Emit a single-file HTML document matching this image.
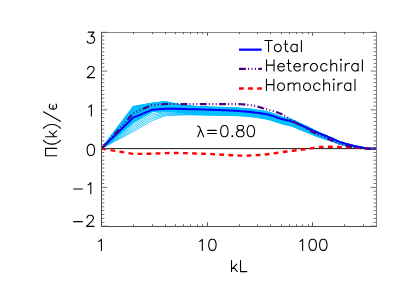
<!DOCTYPE html>
<html><head><meta charset="utf-8"><title>Energy flux</title>
<style>html,body{margin:0;padding:0;background:#fff;font-family:"Liberation Sans",sans-serif;}svg{display:block}</style>
</head><body>
<svg width="407" height="291" viewBox="0 0 407 291">
<rect width="407" height="291" fill="#fff"/>
<defs><clipPath id="c"><rect x="101.50" y="32.50" width="275.00" height="194.00"/></clipPath></defs>
<g clip-path="url(#c)" fill="none" stroke-linejoin="round">
<path d="M101.50,148.61 L133.29,131.55 L151.88,120.70 L165.08,115.85 L175.31,115.27 L183.67,114.96 L190.74,114.88 L196.87,114.95 L202.27,115.08 L207.10,115.19 L211.47,115.27 L215.46,115.34 L219.13,115.39 L222.53,115.45 L225.70,115.51 L228.66,115.57 L231.44,115.63 L234.06,115.70 L236.54,115.77 L238.89,115.85 L241.13,115.95 L243.26,116.08 L245.30,116.23 L247.25,116.41 L249.12,116.60 L250.92,116.80 L252.65,117.01 L254.32,117.22 L255.93,117.44 L257.48,117.66 L258.99,117.88 L261.01,118.19 L262.95,118.50 L264.95,118.82 L266.98,119.24 L268.92,119.73 L270.91,120.30 L272.92,120.94 L274.84,121.58 L276.89,122.28 L278.85,122.93 L280.82,123.56 L282.89,124.16 L284.86,124.66 L286.84,125.06 L288.81,125.47 L290.78,125.99 L292.80,126.69 L294.74,127.45 L296.73,128.29 L298.77,129.15 L300.71,129.93 L302.70,130.72 L304.70,131.54 L306.68,132.35 L308.68,133.17 L310.68,134.00 L312.65,134.79 L314.63,135.57 L316.65,136.35 L318.63,137.08 L320.60,137.76 L322.60,138.41 L324.59,139.02 L326.57,139.62 L328.56,140.23 L330.56,140.89 L332.53,141.61 L334.54,142.38 L336.52,143.12 L338.50,143.78 L340.49,144.33 L342.47,144.80 L344.47,145.25 L346.46,145.67 L348.44,146.06 L350.44,146.42 L352.43,146.75 L354.41,147.04 L356.40,147.30 L358.39,147.53 L360.38,147.73 L362.36,147.92 L364.35,148.14 L366.34,148.39 L368.32,148.57 L370.31,148.61 L372.30,148.61 L374.29,148.61 L376.28,148.61" stroke="#00bfff" stroke-width="0.8"/>
<path d="M101.50,148.61 L133.29,129.85 L151.88,118.87 L165.08,114.84 L175.31,114.51 L183.67,114.44 L190.74,114.53 L196.87,114.67 L202.27,114.81 L207.10,114.93 L211.47,115.03 L215.46,115.10 L219.13,115.16 L222.53,115.22 L225.70,115.28 L228.66,115.35 L231.44,115.41 L234.06,115.48 L236.54,115.56 L238.89,115.64 L241.13,115.74 L243.26,115.88 L245.30,116.03 L247.25,116.21 L249.12,116.39 L250.92,116.59 L252.65,116.80 L254.32,117.02 L255.93,117.23 L257.48,117.45 L258.99,117.67 L261.01,117.98 L262.95,118.29 L264.95,118.61 L266.98,119.03 L268.92,119.52 L270.91,120.09 L272.92,120.73 L274.84,121.37 L276.89,122.07 L278.85,122.72 L280.82,123.35 L282.89,123.95 L284.86,124.45 L286.84,124.85 L288.81,125.26 L290.78,125.79 L292.80,126.48 L294.74,127.24 L296.73,128.08 L298.77,128.94 L300.71,129.72 L302.70,130.51 L304.70,131.34 L306.68,132.15 L308.68,132.98 L310.68,133.80 L312.65,134.60 L314.63,135.39 L316.65,136.17 L318.63,136.91 L320.60,137.60 L322.60,138.25 L324.59,138.87 L326.57,139.47 L328.56,140.10 L330.56,140.76 L332.53,141.49 L334.54,142.26 L336.52,143.01 L338.50,143.68 L340.49,144.23 L342.47,144.71 L344.47,145.17 L346.46,145.60 L348.44,145.99 L350.44,146.36 L352.43,146.69 L354.41,147.00 L356.40,147.27 L358.39,147.50 L360.38,147.70 L362.36,147.91 L364.35,148.13 L366.34,148.39 L368.32,148.57 L370.31,148.61 L372.30,148.61 L374.29,148.61 L376.28,148.61" stroke="#00bfff" stroke-width="0.8"/>
<path d="M101.50,148.61 L133.29,128.14 L151.88,117.05 L165.08,113.83 L175.31,113.75 L183.67,113.92 L190.74,114.18 L196.87,114.38 L202.27,114.54 L207.10,114.68 L211.47,114.78 L215.46,114.86 L219.13,114.93 L222.53,115.00 L225.70,115.06 L228.66,115.12 L231.44,115.19 L234.06,115.26 L236.54,115.34 L238.89,115.43 L241.13,115.54 L243.26,115.67 L245.30,115.83 L247.25,116.00 L249.12,116.19 L250.92,116.39 L252.65,116.60 L254.32,116.81 L255.93,117.03 L257.48,117.25 L258.99,117.47 L261.01,117.77 L262.95,118.08 L264.95,118.40 L266.98,118.82 L268.92,119.31 L270.91,119.88 L272.92,120.52 L274.84,121.16 L276.89,121.86 L278.85,122.51 L280.82,123.14 L282.89,123.74 L284.86,124.24 L286.84,124.64 L288.81,125.05 L290.78,125.58 L292.80,126.27 L294.74,127.03 L296.73,127.87 L298.77,128.73 L300.71,129.51 L302.70,130.31 L304.70,131.13 L306.68,131.95 L308.68,132.78 L310.68,133.61 L312.65,134.42 L314.63,135.21 L316.65,136.00 L318.63,136.73 L320.60,137.43 L322.60,138.09 L324.59,138.72 L326.57,139.33 L328.56,139.96 L330.56,140.63 L332.53,141.36 L334.54,142.15 L336.52,142.90 L338.50,143.58 L340.49,144.14 L342.47,144.63 L344.47,145.09 L346.46,145.52 L348.44,145.92 L350.44,146.30 L352.43,146.64 L354.41,146.95 L356.40,147.23 L358.39,147.47 L360.38,147.68 L362.36,147.89 L364.35,148.12 L366.34,148.38 L368.32,148.57 L370.31,148.61 L372.30,148.61 L374.29,148.61 L376.28,148.61" stroke="#00bfff" stroke-width="0.8"/>
<path d="M101.50,148.61 L133.29,126.43 L151.88,115.23 L165.08,112.83 L175.31,112.99 L183.67,113.40 L190.74,113.83 L196.87,114.09 L202.27,114.27 L207.10,114.42 L211.47,114.54 L215.46,114.63 L219.13,114.70 L222.53,114.77 L225.70,114.83 L228.66,114.90 L231.44,114.97 L234.06,115.05 L236.54,115.13 L238.89,115.22 L241.13,115.33 L243.26,115.47 L245.30,115.63 L247.25,115.80 L249.12,115.99 L250.92,116.19 L252.65,116.40 L254.32,116.61 L255.93,116.82 L257.48,117.04 L258.99,117.26 L261.01,117.57 L262.95,117.87 L264.95,118.20 L266.98,118.61 L268.92,119.10 L270.91,119.68 L272.92,120.31 L274.84,120.95 L276.89,121.65 L278.85,122.30 L280.82,122.93 L282.89,123.53 L284.86,124.03 L286.84,124.43 L288.81,124.84 L290.78,125.37 L292.80,126.06 L294.74,126.82 L296.73,127.66 L298.77,128.51 L300.71,129.30 L302.70,130.10 L304.70,130.93 L306.68,131.75 L308.68,132.59 L310.68,133.42 L312.65,134.23 L314.63,135.03 L316.65,135.82 L318.63,136.56 L320.60,137.27 L322.60,137.94 L324.59,138.57 L326.57,139.19 L328.56,139.82 L330.56,140.50 L332.53,141.24 L334.54,142.03 L336.52,142.79 L338.50,143.48 L340.49,144.04 L342.47,144.54 L344.47,145.01 L346.46,145.45 L348.44,145.86 L350.44,146.24 L352.43,146.59 L354.41,146.90 L356.40,147.19 L358.39,147.43 L360.38,147.66 L362.36,147.87 L364.35,148.11 L366.34,148.38 L368.32,148.57 L370.31,148.61 L372.30,148.61 L374.29,148.61 L376.28,148.61" stroke="#00bfff" stroke-width="0.8"/>
<path d="M101.50,148.61 L133.29,124.73 L151.88,113.41 L165.08,111.82 L175.31,112.23 L183.67,112.88 L190.74,113.48 L196.87,113.79 L202.27,114.00 L207.10,114.17 L211.47,114.29 L215.46,114.39 L219.13,114.47 L222.53,114.54 L225.70,114.61 L228.66,114.68 L231.44,114.75 L234.06,114.83 L236.54,114.92 L238.89,115.01 L241.13,115.13 L243.26,115.26 L245.30,115.42 L247.25,115.60 L249.12,115.79 L250.92,115.99 L252.65,116.19 L254.32,116.40 L255.93,116.62 L257.48,116.83 L258.99,117.05 L261.01,117.36 L262.95,117.66 L264.95,117.99 L266.98,118.40 L268.92,118.89 L270.91,119.47 L272.92,120.10 L274.84,120.74 L276.89,121.44 L278.85,122.09 L280.82,122.72 L282.89,123.32 L284.86,123.82 L286.84,124.22 L288.81,124.63 L290.78,125.16 L292.80,125.85 L294.74,126.61 L296.73,127.45 L298.77,128.30 L300.71,129.09 L302.70,129.89 L304.70,130.73 L306.68,131.55 L308.68,132.39 L310.68,133.23 L312.65,134.04 L314.63,134.84 L316.65,135.64 L318.63,136.39 L320.60,137.10 L322.60,137.78 L324.59,138.42 L326.57,139.04 L328.56,139.69 L330.56,140.37 L332.53,141.12 L334.54,141.92 L336.52,142.68 L338.50,143.38 L340.49,143.95 L342.47,144.45 L344.47,144.93 L346.46,145.38 L348.44,145.79 L350.44,146.18 L352.43,146.53 L354.41,146.86 L356.40,147.15 L358.39,147.40 L360.38,147.63 L362.36,147.85 L364.35,148.10 L366.34,148.37 L368.32,148.57 L370.31,148.61 L372.30,148.61 L374.29,148.61 L376.28,148.61" stroke="#00bfff" stroke-width="0.8"/>
<path d="M101.50,148.61 L133.29,122.61 L151.88,111.48 L165.08,110.79 L175.31,111.90 L183.67,112.42 L190.74,113.22 L196.87,113.54 L202.27,113.75 L207.10,113.93 L211.47,114.08 L215.46,114.19 L219.13,114.29 L222.53,114.38 L225.70,114.46 L228.66,114.55 L231.44,114.64 L234.06,114.73 L236.54,114.84 L238.89,114.95 L241.13,115.07 L243.26,115.22 L245.30,115.39 L247.25,115.56 L249.12,115.75 L250.92,115.95 L252.65,116.15 L254.32,116.36 L255.93,116.57 L257.48,116.78 L258.99,116.99 L261.01,117.30 L262.95,117.60 L264.95,117.92 L266.98,118.34 L268.92,118.83 L270.91,119.40 L272.92,120.04 L274.84,120.68 L276.89,121.37 L278.85,122.03 L280.82,122.66 L282.89,123.26 L284.86,123.75 L286.84,124.16 L288.81,124.57 L290.78,125.09 L292.80,125.79 L294.74,126.55 L296.73,127.38 L298.77,128.24 L300.71,129.03 L302.70,129.83 L304.70,130.66 L306.68,131.49 L308.68,132.33 L310.68,133.17 L312.65,133.99 L314.63,134.79 L316.65,135.59 L318.63,136.34 L320.60,137.05 L322.60,137.73 L324.59,138.37 L326.57,139.00 L328.56,139.64 L330.56,140.33 L332.53,141.08 L334.54,141.88 L336.52,142.65 L338.50,143.35 L340.49,143.92 L342.47,144.43 L344.47,144.90 L346.46,145.35 L348.44,145.77 L350.44,146.16 L352.43,146.52 L354.41,146.84 L356.40,147.14 L358.39,147.39 L360.38,147.63 L362.36,147.85 L364.35,148.09 L366.34,148.37 L368.32,148.57 L370.31,148.61 L372.30,148.61 L374.29,148.61 L376.28,148.61" stroke="#00bfff" stroke-width="1.1"/>
<path d="M101.50,148.61 L133.29,122.65 L151.88,111.50 L165.08,110.90 L175.31,111.08 L183.67,111.98 L190.74,112.57 L196.87,113.06 L202.27,113.46 L207.10,113.74 L211.47,113.91 L215.46,114.03 L219.13,114.12 L222.53,114.21 L225.70,114.29 L228.66,114.36 L231.44,114.45 L234.06,114.54 L236.54,114.64 L238.89,114.75 L241.13,114.87 L243.26,115.02 L245.30,115.18 L247.25,115.36 L249.12,115.55 L250.92,115.74 L252.65,115.94 L254.32,116.15 L255.93,116.36 L257.48,116.58 L258.99,116.79 L261.01,117.09 L262.95,117.40 L264.95,117.72 L266.98,118.13 L268.92,118.62 L270.91,119.20 L272.92,119.84 L274.84,120.48 L276.89,121.17 L278.85,121.83 L280.82,122.45 L282.89,123.06 L284.86,123.55 L286.84,123.95 L288.81,124.36 L290.78,124.89 L292.80,125.58 L294.74,126.34 L296.73,127.18 L298.77,128.04 L300.71,128.83 L302.70,129.63 L304.70,130.47 L306.68,131.30 L308.68,132.14 L310.68,132.98 L312.65,133.80 L314.63,134.61 L316.65,135.42 L318.63,136.17 L320.60,136.89 L322.60,137.58 L324.59,138.22 L326.57,138.86 L328.56,139.51 L330.56,140.20 L332.53,140.96 L334.54,141.77 L336.52,142.55 L338.50,143.25 L340.49,143.83 L342.47,144.34 L344.47,144.83 L346.46,145.28 L348.44,145.70 L350.44,146.10 L352.43,146.47 L354.41,146.80 L356.40,147.10 L358.39,147.36 L360.38,147.60 L362.36,147.83 L364.35,148.08 L366.34,148.36 L368.32,148.57 L370.31,148.61 L372.30,148.61 L374.29,148.61 L376.28,148.61" stroke="#00bfff" stroke-width="1.1"/>
<path d="M101.50,148.61 L133.29,122.38 L151.88,111.55 L165.08,110.16 L175.31,111.35 L183.67,112.29 L190.74,112.85 L196.87,113.02 L202.27,113.12 L207.10,113.24 L211.47,113.37 L215.46,113.49 L219.13,113.60 L222.53,113.72 L225.70,113.83 L228.66,113.95 L231.44,114.07 L234.06,114.19 L236.54,114.32 L238.89,114.44 L241.13,114.58 L243.26,114.74 L245.30,114.91 L247.25,115.09 L249.12,115.27 L250.92,115.47 L252.65,115.67 L254.32,115.87 L255.93,116.08 L257.48,116.29 L258.99,116.50 L261.01,116.80 L262.95,117.10 L264.95,117.42 L266.98,117.83 L268.92,118.32 L270.91,118.90 L272.92,119.54 L274.84,120.18 L276.89,120.87 L278.85,121.53 L280.82,122.15 L282.89,122.76 L284.86,123.25 L286.84,123.65 L288.81,124.06 L290.78,124.59 L292.80,125.28 L294.74,126.04 L296.73,126.87 L298.77,127.73 L300.71,128.53 L302.70,129.34 L304.70,130.17 L306.68,131.01 L308.68,131.86 L310.68,132.71 L312.65,133.54 L314.63,134.35 L316.65,135.16 L318.63,135.93 L320.60,136.66 L322.60,137.35 L324.59,138.01 L326.57,138.65 L328.56,139.32 L330.56,140.02 L332.53,140.78 L334.54,141.60 L336.52,142.39 L338.50,143.10 L340.49,143.69 L342.47,144.22 L344.47,144.71 L346.46,145.18 L348.44,145.61 L350.44,146.01 L352.43,146.39 L354.41,146.73 L356.40,147.05 L358.39,147.32 L360.38,147.57 L362.36,147.81 L364.35,148.06 L366.34,148.36 L368.32,148.57 L370.31,148.61 L372.30,148.61 L374.29,148.61 L376.28,148.61" stroke="#00bfff" stroke-width="1.1"/>
<path d="M101.50,148.61 L133.29,122.11 L151.88,111.16 L165.08,110.03 L175.31,110.95 L183.67,112.02 L190.74,112.69 L196.87,112.95 L202.27,113.12 L207.10,113.25 L211.47,113.35 L215.46,113.42 L219.13,113.48 L222.53,113.53 L225.70,113.58 L228.66,113.63 L231.44,113.68 L234.06,113.75 L236.54,113.81 L238.89,113.89 L241.13,113.99 L243.26,114.11 L245.30,114.27 L247.25,114.44 L249.12,114.63 L250.92,114.83 L252.65,115.04 L254.32,115.26 L255.93,115.48 L257.48,115.70 L258.99,115.92 L261.01,116.23 L262.95,116.54 L264.95,116.86 L266.98,117.28 L268.92,117.77 L270.91,118.34 L272.92,118.98 L274.84,119.62 L276.89,120.31 L278.85,120.97 L280.82,121.60 L282.89,122.20 L284.86,122.69 L286.84,123.10 L288.81,123.51 L290.78,124.03 L292.80,124.72 L294.74,125.48 L296.73,126.31 L298.77,127.18 L300.71,127.97 L302.70,128.79 L304.70,129.63 L306.68,130.48 L308.68,131.34 L310.68,132.20 L312.65,133.04 L314.63,133.87 L316.65,134.69 L318.63,135.47 L320.60,136.22 L322.60,136.93 L324.59,137.60 L326.57,138.27 L328.56,138.95 L330.56,139.67 L332.53,140.46 L334.54,141.29 L336.52,142.10 L338.50,142.83 L340.49,143.44 L342.47,143.98 L344.47,144.50 L346.46,144.98 L348.44,145.43 L350.44,145.85 L352.43,146.25 L354.41,146.61 L356.40,146.94 L358.39,147.24 L360.38,147.50 L362.36,147.76 L364.35,148.03 L366.34,148.34 L368.32,148.57 L370.31,148.61 L372.30,148.61 L374.29,148.61 L376.28,148.61" stroke="#00bfff" stroke-width="1.1"/>
<path d="M101.50,148.61 L133.29,121.78 L151.88,110.94 L165.08,110.15 L175.31,111.28 L183.67,111.89 L190.74,112.71 L196.87,112.84 L202.27,112.91 L207.10,113.00 L211.47,113.11 L215.46,113.23 L219.13,113.35 L222.53,113.47 L225.70,113.59 L228.66,113.71 L231.44,113.84 L234.06,113.97 L236.54,114.10 L238.89,114.23 L241.13,114.37 L243.26,114.52 L245.30,114.69 L247.25,114.87 L249.12,115.06 L250.92,115.25 L252.65,115.45 L254.32,115.65 L255.93,115.86 L257.48,116.07 L258.99,116.28 L261.01,116.58 L262.95,116.88 L264.95,117.20 L266.98,117.62 L268.92,118.11 L270.91,118.68 L272.92,119.32 L274.84,119.96 L276.89,120.65 L278.85,121.31 L280.82,121.94 L282.89,122.54 L284.86,123.03 L286.84,123.44 L288.81,123.84 L290.78,124.37 L292.80,125.06 L294.74,125.82 L296.73,126.66 L298.77,127.52 L300.71,128.31 L302.70,129.12 L304.70,129.96 L306.68,130.80 L308.68,131.65 L310.68,132.51 L312.65,133.34 L314.63,134.16 L316.65,134.98 L318.63,135.75 L320.60,136.49 L322.60,137.18 L324.59,137.85 L326.57,138.50 L328.56,139.17 L330.56,139.88 L332.53,140.66 L334.54,141.48 L336.52,142.28 L338.50,142.99 L340.49,143.59 L342.47,144.13 L344.47,144.63 L346.46,145.10 L348.44,145.54 L350.44,145.95 L352.43,146.33 L354.41,146.69 L356.40,147.01 L358.39,147.29 L360.38,147.54 L362.36,147.79 L364.35,148.05 L366.34,148.35 L368.32,148.57 L370.31,148.61 L372.30,148.61 L374.29,148.61 L376.28,148.61" stroke="#00bfff" stroke-width="1.1"/>
<path d="M101.50,148.61 L133.29,121.48 L151.88,110.44 L165.08,109.83 L175.31,110.94 L183.67,111.64 L190.74,112.44 L196.87,112.84 L202.27,113.12 L207.10,113.30 L211.47,113.43 L215.46,113.51 L219.13,113.58 L222.53,113.64 L225.70,113.69 L228.66,113.75 L231.44,113.81 L234.06,113.88 L236.54,113.95 L238.89,114.04 L241.13,114.14 L243.26,114.28 L245.30,114.43 L247.25,114.61 L249.12,114.80 L250.92,115.00 L252.65,115.20 L254.32,115.42 L255.93,115.63 L257.48,115.85 L258.99,116.07 L261.01,116.38 L262.95,116.69 L264.95,117.01 L266.98,117.43 L268.92,117.92 L270.91,118.49 L272.92,119.13 L274.84,119.77 L276.89,120.46 L278.85,121.12 L280.82,121.75 L282.89,122.35 L284.86,122.84 L286.84,123.25 L288.81,123.66 L290.78,124.18 L292.80,124.87 L294.74,125.63 L296.73,126.47 L298.77,127.33 L300.71,128.12 L302.70,128.94 L304.70,129.78 L306.68,130.62 L308.68,131.48 L310.68,132.34 L312.65,133.17 L314.63,134.00 L316.65,134.82 L318.63,135.60 L320.60,136.34 L322.60,137.04 L324.59,137.71 L326.57,138.37 L328.56,139.05 L330.56,139.77 L332.53,140.55 L334.54,141.38 L336.52,142.18 L338.50,142.90 L340.49,143.51 L342.47,144.05 L344.47,144.56 L346.46,145.03 L348.44,145.48 L350.44,145.90 L352.43,146.29 L354.41,146.65 L356.40,146.97 L358.39,147.26 L360.38,147.52 L362.36,147.77 L364.35,148.04 L366.34,148.35 L368.32,148.57 L370.31,148.61 L372.30,148.61 L374.29,148.61 L376.28,148.61" stroke="#00bfff" stroke-width="1.1"/>
<path d="M101.50,148.61 L133.29,121.25 L151.88,110.46 L165.08,109.30 L175.31,110.15 L183.67,111.07 L190.74,111.87 L196.87,112.19 L202.27,112.39 L207.10,112.59 L211.47,112.79 L215.46,112.96 L219.13,113.11 L222.53,113.26 L225.70,113.41 L228.66,113.55 L231.44,113.70 L234.06,113.85 L236.54,114.00 L238.89,114.15 L241.13,114.32 L243.26,114.48 L245.30,114.66 L247.25,114.84 L249.12,115.02 L250.92,115.22 L252.65,115.41 L254.32,115.61 L255.93,115.81 L257.48,116.01 L258.99,116.22 L261.01,116.51 L262.95,116.81 L264.95,117.13 L266.98,117.54 L268.92,118.03 L270.91,118.61 L272.92,119.24 L274.84,119.89 L276.89,120.58 L278.85,121.23 L280.82,121.86 L282.89,122.46 L284.86,122.96 L286.84,123.36 L288.81,123.77 L290.78,124.30 L292.80,124.99 L294.74,125.75 L296.73,126.58 L298.77,127.44 L300.71,128.24 L302.70,129.05 L304.70,129.89 L306.68,130.73 L308.68,131.59 L310.68,132.44 L312.65,133.28 L314.63,134.10 L316.65,134.92 L318.63,135.69 L320.60,136.43 L322.60,137.13 L324.59,137.80 L326.57,138.45 L328.56,139.13 L330.56,139.84 L332.53,140.61 L334.54,141.44 L336.52,142.24 L338.50,142.96 L340.49,143.56 L342.47,144.09 L344.47,144.60 L346.46,145.07 L348.44,145.52 L350.44,145.93 L352.43,146.32 L354.41,146.67 L356.40,146.99 L358.39,147.28 L360.38,147.53 L362.36,147.78 L364.35,148.05 L366.34,148.35 L368.32,148.57 L370.31,148.61 L372.30,148.61 L374.29,148.61 L376.28,148.61" stroke="#00bfff" stroke-width="1.1"/>
<path d="M101.50,148.61 L133.29,120.14 L151.88,110.63 L165.08,109.47 L175.31,110.61 L183.67,110.92 L190.74,111.66 L196.87,112.19 L202.27,112.60 L207.10,112.82 L211.47,112.92 L215.46,112.98 L219.13,113.03 L222.53,113.06 L225.70,113.10 L228.66,113.13 L231.44,113.17 L234.06,113.22 L236.54,113.27 L238.89,113.33 L241.13,113.42 L243.26,113.54 L245.30,113.69 L247.25,113.86 L249.12,114.05 L250.92,114.25 L252.65,114.46 L254.32,114.68 L255.93,114.91 L257.48,115.13 L258.99,115.36 L261.01,115.67 L262.95,115.98 L264.95,116.30 L266.98,116.72 L268.92,117.21 L270.91,117.78 L272.92,118.42 L274.84,119.06 L276.89,119.76 L278.85,120.41 L280.82,121.04 L282.89,121.64 L284.86,122.14 L286.84,122.54 L288.81,122.95 L290.78,123.47 L292.80,124.16 L294.74,124.92 L296.73,125.75 L298.77,126.61 L300.71,127.41 L302.70,128.24 L304.70,129.09 L306.68,129.94 L308.68,130.81 L310.68,131.69 L312.65,132.54 L314.63,133.38 L316.65,134.22 L318.63,135.02 L320.60,135.78 L322.60,136.50 L324.59,137.20 L326.57,137.88 L328.56,138.59 L330.56,139.33 L332.53,140.13 L334.54,140.99 L336.52,141.81 L338.50,142.56 L340.49,143.19 L342.47,143.75 L344.47,144.28 L346.46,144.78 L348.44,145.25 L350.44,145.69 L352.43,146.11 L354.41,146.49 L356.40,146.84 L358.39,147.15 L360.38,147.44 L362.36,147.71 L364.35,148.00 L366.34,148.33 L368.32,148.56 L370.31,148.61 L372.30,148.61 L374.29,148.61 L376.28,148.61" stroke="#00bfff" stroke-width="1.1"/>
<path d="M101.50,148.61 L133.29,120.11 L151.88,109.96 L165.08,109.08 L175.31,110.22 L183.67,110.89 L190.74,111.35 L196.87,111.97 L202.27,112.54 L207.10,112.85 L211.47,112.96 L215.46,113.02 L219.13,113.07 L222.53,113.11 L225.70,113.14 L228.66,113.18 L231.44,113.22 L234.06,113.26 L236.54,113.32 L238.89,113.38 L241.13,113.47 L243.26,113.59 L245.30,113.74 L247.25,113.92 L249.12,114.11 L250.92,114.31 L252.65,114.52 L254.32,114.74 L255.93,114.96 L257.48,115.18 L258.99,115.41 L261.01,115.72 L262.95,116.03 L264.95,116.36 L266.98,116.77 L268.92,117.26 L270.91,117.84 L272.92,118.47 L274.84,119.11 L276.89,119.81 L278.85,120.46 L280.82,121.09 L282.89,121.69 L284.86,122.19 L286.84,122.59 L288.81,123.00 L290.78,123.53 L292.80,124.22 L294.74,124.97 L296.73,125.80 L298.77,126.67 L300.71,127.47 L302.70,128.29 L304.70,129.14 L306.68,129.99 L308.68,130.86 L310.68,131.74 L312.65,132.59 L314.63,133.43 L316.65,134.27 L318.63,135.06 L320.60,135.82 L322.60,136.54 L324.59,137.24 L326.57,137.92 L328.56,138.62 L330.56,139.36 L332.53,140.16 L334.54,141.01 L336.52,141.84 L338.50,142.58 L340.49,143.21 L342.47,143.77 L344.47,144.30 L346.46,144.80 L348.44,145.27 L350.44,145.71 L352.43,146.12 L354.41,146.50 L356.40,146.85 L358.39,147.16 L360.38,147.45 L362.36,147.72 L364.35,148.01 L366.34,148.33 L368.32,148.56 L370.31,148.61 L372.30,148.61 L374.29,148.61 L376.28,148.61" stroke="#00bfff" stroke-width="1.1"/>
<path d="M101.50,148.61 L133.29,119.61 L151.88,109.39 L165.08,108.79 L175.31,109.63 L183.67,110.67 L190.74,111.58 L196.87,112.15 L202.27,112.57 L207.10,112.77 L211.47,112.84 L215.46,112.89 L219.13,112.92 L222.53,112.94 L225.70,112.96 L228.66,112.98 L231.44,113.01 L234.06,113.04 L236.54,113.07 L238.89,113.12 L241.13,113.19 L243.26,113.30 L245.30,113.44 L247.25,113.61 L249.12,113.81 L250.92,114.01 L252.65,114.23 L254.32,114.45 L255.93,114.68 L257.48,114.90 L258.99,115.13 L261.01,115.45 L262.95,115.76 L264.95,116.09 L266.98,116.50 L268.92,117.00 L270.91,117.57 L272.92,118.21 L274.84,118.85 L276.89,119.54 L278.85,120.20 L280.82,120.82 L282.89,121.43 L284.86,121.92 L286.84,122.32 L288.81,122.73 L290.78,123.26 L292.80,123.95 L294.74,124.71 L296.73,125.54 L298.77,126.40 L300.71,127.20 L302.70,128.03 L304.70,128.88 L306.68,129.74 L308.68,130.61 L310.68,131.49 L312.65,132.35 L314.63,133.20 L316.65,134.04 L318.63,134.84 L320.60,135.61 L322.60,136.34 L324.59,137.05 L326.57,137.74 L328.56,138.45 L330.56,139.20 L332.53,140.01 L334.54,140.87 L336.52,141.70 L338.50,142.45 L340.49,143.09 L342.47,143.66 L344.47,144.20 L346.46,144.71 L348.44,145.18 L350.44,145.63 L352.43,146.05 L354.41,146.44 L356.40,146.80 L358.39,147.12 L360.38,147.42 L362.36,147.69 L364.35,147.99 L366.34,148.32 L368.32,148.56 L370.31,148.61 L372.30,148.61 L374.29,148.61 L376.28,148.61" stroke="#00bfff" stroke-width="1.1"/>
<path d="M101.50,148.61 L133.29,119.51 L151.88,109.55 L165.08,108.55 L175.31,109.80 L183.67,110.61 L190.74,111.20 L196.87,111.65 L202.27,112.02 L207.10,112.29 L211.47,112.48 L215.46,112.63 L219.13,112.74 L222.53,112.85 L225.70,112.94 L228.66,113.04 L231.44,113.14 L234.06,113.25 L236.54,113.37 L238.89,113.49 L241.13,113.63 L243.26,113.79 L245.30,113.96 L247.25,114.13 L249.12,114.32 L250.92,114.52 L252.65,114.71 L254.32,114.92 L255.93,115.13 L257.48,115.34 L258.99,115.55 L261.01,115.85 L262.95,116.15 L264.95,116.47 L266.98,116.88 L268.92,117.37 L270.91,117.95 L272.92,118.59 L274.84,119.23 L276.89,119.92 L278.85,120.58 L280.82,121.20 L282.89,121.81 L284.86,122.30 L286.84,122.70 L288.81,123.11 L290.78,123.64 L292.80,124.33 L294.74,125.09 L296.73,125.92 L298.77,126.78 L300.71,127.58 L302.70,128.40 L304.70,129.25 L306.68,130.10 L308.68,130.97 L310.68,131.84 L312.65,132.69 L314.63,133.52 L316.65,134.36 L318.63,135.15 L320.60,135.91 L322.60,136.63 L324.59,137.32 L326.57,138.00 L328.56,138.69 L330.56,139.43 L332.53,140.23 L334.54,141.08 L336.52,141.89 L338.50,142.64 L340.49,143.26 L342.47,143.82 L344.47,144.35 L346.46,144.84 L348.44,145.30 L350.44,145.74 L352.43,146.15 L354.41,146.53 L356.40,146.87 L358.39,147.18 L360.38,147.46 L362.36,147.73 L364.35,148.01 L366.34,148.33 L368.32,148.56 L370.31,148.61 L372.30,148.61 L374.29,148.61 L376.28,148.61" stroke="#00bfff" stroke-width="1.1"/>
<path d="M101.50,148.61 L133.29,119.48 L151.88,109.63 L165.08,108.62 L175.31,109.54 L183.67,110.70 L190.74,111.21 L196.87,111.65 L202.27,112.01 L207.10,112.26 L211.47,112.41 L215.46,112.52 L219.13,112.60 L222.53,112.68 L225.70,112.75 L228.66,112.82 L231.44,112.89 L234.06,112.97 L236.54,113.06 L238.89,113.16 L241.13,113.28 L243.26,113.42 L245.30,113.58 L247.25,113.76 L249.12,113.95 L250.92,114.14 L252.65,114.35 L254.32,114.56 L255.93,114.77 L257.48,114.99 L258.99,115.20 L261.01,115.51 L262.95,115.81 L264.95,116.14 L266.98,116.55 L268.92,117.04 L270.91,117.62 L272.92,118.25 L274.84,118.89 L276.89,119.59 L278.85,120.24 L280.82,120.87 L282.89,121.47 L284.86,121.97 L286.84,122.37 L288.81,122.78 L290.78,123.31 L292.80,124.00 L294.74,124.75 L296.73,125.58 L298.77,126.45 L300.71,127.25 L302.70,128.07 L304.70,128.93 L306.68,129.78 L308.68,130.66 L310.68,131.53 L312.65,132.39 L314.63,133.24 L316.65,134.08 L318.63,134.88 L320.60,135.65 L322.60,136.38 L324.59,137.08 L326.57,137.77 L328.56,138.48 L330.56,139.22 L332.53,140.03 L334.54,140.89 L336.52,141.72 L338.50,142.48 L340.49,143.11 L342.47,143.68 L344.47,144.22 L346.46,144.73 L348.44,145.20 L350.44,145.65 L352.43,146.06 L354.41,146.45 L356.40,146.81 L358.39,147.13 L360.38,147.42 L362.36,147.70 L364.35,147.99 L366.34,148.32 L368.32,148.56 L370.31,148.61 L372.30,148.61 L374.29,148.61 L376.28,148.61" stroke="#00bfff" stroke-width="1.1"/>
<path d="M101.50,148.61 L133.29,118.27 L151.88,109.40 L165.08,108.34 L175.31,108.73 L183.67,110.10 L190.74,111.43 L196.87,111.70 L202.27,111.85 L207.10,111.98 L211.47,112.10 L215.46,112.20 L219.13,112.28 L222.53,112.35 L225.70,112.42 L228.66,112.50 L231.44,112.58 L234.06,112.66 L236.54,112.76 L238.89,112.85 L241.13,112.97 L243.26,113.11 L245.30,113.27 L247.25,113.45 L249.12,113.63 L250.92,113.83 L252.65,114.04 L254.32,114.25 L255.93,114.46 L257.48,114.68 L258.99,114.89 L261.01,115.20 L262.95,115.50 L264.95,115.83 L266.98,116.24 L268.92,116.73 L270.91,117.31 L272.92,117.94 L274.84,118.59 L276.89,119.28 L278.85,119.93 L280.82,120.56 L282.89,121.16 L284.86,121.66 L286.84,122.06 L288.81,122.47 L290.78,123.00 L292.80,123.69 L294.74,124.44 L296.73,125.27 L298.77,126.14 L300.71,126.94 L302.70,127.77 L304.70,128.63 L306.68,129.49 L308.68,130.37 L310.68,131.25 L312.65,132.11 L314.63,132.97 L316.65,133.82 L318.63,134.63 L320.60,135.40 L322.60,136.14 L324.59,136.86 L326.57,137.56 L328.56,138.28 L330.56,139.03 L332.53,139.85 L334.54,140.72 L336.52,141.56 L338.50,142.33 L340.49,142.97 L342.47,143.55 L344.47,144.10 L346.46,144.62 L348.44,145.10 L350.44,145.56 L352.43,145.99 L354.41,146.39 L356.40,146.75 L358.39,147.08 L360.38,147.39 L362.36,147.67 L364.35,147.98 L366.34,148.32 L368.32,148.56 L370.31,148.61 L372.30,148.61 L374.29,148.61 L376.28,148.61" stroke="#00bfff" stroke-width="1.1"/>
<path d="M101.50,148.61 L133.29,117.75 L151.88,108.97 L165.08,108.18 L175.31,109.21 L183.67,109.98 L190.74,110.89 L196.87,111.36 L202.27,111.69 L207.10,111.92 L211.47,112.08 L215.46,112.19 L219.13,112.28 L222.53,112.36 L225.70,112.44 L228.66,112.51 L231.44,112.59 L234.06,112.68 L236.54,112.77 L238.89,112.88 L241.13,113.00 L243.26,113.14 L245.30,113.31 L247.25,113.48 L249.12,113.67 L250.92,113.87 L252.65,114.07 L254.32,114.28 L255.93,114.49 L257.48,114.71 L258.99,114.92 L261.01,115.22 L262.95,115.53 L264.95,115.85 L266.98,116.27 L268.92,116.76 L270.91,117.33 L272.92,117.97 L274.84,118.61 L276.89,119.30 L278.85,119.96 L280.82,120.59 L282.89,121.19 L284.86,121.68 L286.84,122.09 L288.81,122.49 L290.78,123.02 L292.80,123.71 L294.74,124.47 L296.73,125.30 L298.77,126.16 L300.71,126.96 L302.70,127.79 L304.70,128.65 L306.68,129.51 L308.68,130.39 L310.68,131.27 L312.65,132.14 L314.63,132.99 L316.65,133.84 L318.63,134.65 L320.60,135.42 L322.60,136.16 L324.59,136.87 L326.57,137.57 L328.56,138.29 L330.56,139.05 L332.53,139.87 L334.54,140.74 L336.52,141.57 L338.50,142.34 L340.49,142.98 L342.47,143.56 L344.47,144.11 L346.46,144.63 L348.44,145.11 L350.44,145.56 L352.43,145.99 L354.41,146.39 L356.40,146.76 L358.39,147.09 L360.38,147.39 L362.36,147.67 L364.35,147.98 L366.34,148.32 L368.32,148.56 L370.31,148.61 L372.30,148.61 L374.29,148.61 L376.28,148.61" stroke="#00bfff" stroke-width="1.1"/>
<path d="M101.50,148.61 L133.29,117.75 L151.88,108.64 L165.08,108.00 L175.31,108.74 L183.67,109.76 L190.74,110.69 L196.87,111.23 L202.27,111.62 L207.10,111.83 L211.47,111.93 L215.46,112.00 L219.13,112.05 L222.53,112.09 L225.70,112.12 L228.66,112.16 L231.44,112.20 L234.06,112.25 L236.54,112.31 L238.89,112.37 L241.13,112.46 L243.26,112.58 L245.30,112.73 L247.25,112.91 L249.12,113.10 L250.92,113.30 L252.65,113.51 L254.32,113.73 L255.93,113.95 L257.48,114.17 L258.99,114.40 L261.01,114.71 L262.95,115.02 L264.95,115.34 L266.98,115.76 L268.92,116.25 L270.91,116.82 L272.92,117.46 L274.84,118.10 L276.89,118.80 L278.85,119.45 L280.82,120.08 L282.89,120.68 L284.86,121.18 L286.84,121.58 L288.81,121.99 L290.78,122.51 L292.80,123.20 L294.74,123.95 L296.73,124.78 L298.77,125.65 L300.71,126.46 L302.70,127.29 L304.70,128.16 L306.68,129.03 L308.68,129.91 L310.68,130.81 L312.65,131.68 L314.63,132.55 L316.65,133.41 L318.63,134.23 L320.60,135.02 L322.60,135.78 L324.59,136.51 L326.57,137.22 L328.56,137.96 L330.56,138.73 L332.53,139.57 L334.54,140.45 L336.52,141.31 L338.50,142.09 L340.49,142.75 L342.47,143.35 L344.47,143.91 L346.46,144.45 L348.44,144.95 L350.44,145.42 L352.43,145.86 L354.41,146.28 L356.40,146.66 L358.39,147.01 L360.38,147.33 L362.36,147.63 L364.35,147.95 L366.34,148.30 L368.32,148.56 L370.31,148.61 L372.30,148.61 L374.29,148.61 L376.28,148.61" stroke="#00bfff" stroke-width="1.1"/>
<path d="M101.50,148.61 L133.29,117.43 L151.88,108.51 L165.08,107.81 L175.31,109.07 L183.67,109.74 L190.74,110.57 L196.87,110.99 L202.27,111.28 L207.10,111.49 L211.47,111.65 L215.46,111.76 L219.13,111.86 L222.53,111.94 L225.70,112.01 L228.66,112.09 L231.44,112.17 L234.06,112.26 L236.54,112.36 L238.89,112.47 L241.13,112.59 L243.26,112.73 L245.30,112.90 L247.25,113.07 L249.12,113.26 L250.92,113.46 L252.65,113.66 L254.32,113.87 L255.93,114.08 L257.48,114.30 L258.99,114.51 L261.01,114.81 L262.95,115.12 L264.95,115.44 L266.98,115.85 L268.92,116.35 L270.91,116.92 L272.92,117.56 L274.84,118.20 L276.89,118.89 L278.85,119.55 L280.82,120.18 L282.89,120.78 L284.86,121.27 L286.84,121.67 L288.81,122.08 L290.78,122.61 L292.80,123.30 L294.74,124.05 L296.73,124.88 L298.77,125.75 L300.71,126.55 L302.70,127.39 L304.70,128.25 L306.68,129.12 L308.68,130.00 L310.68,130.90 L312.65,131.77 L314.63,132.63 L316.65,133.49 L318.63,134.31 L320.60,135.10 L322.60,135.85 L324.59,136.58 L326.57,137.29 L328.56,138.02 L330.56,138.79 L332.53,139.62 L334.54,140.51 L336.52,141.36 L338.50,142.14 L340.49,142.80 L342.47,143.39 L344.47,143.95 L346.46,144.48 L348.44,144.98 L350.44,145.45 L352.43,145.89 L354.41,146.30 L356.40,146.68 L358.39,147.03 L360.38,147.34 L362.36,147.64 L364.35,147.96 L366.34,148.31 L368.32,148.56 L370.31,148.61 L372.30,148.61 L374.29,148.61 L376.28,148.61" stroke="#00bfff" stroke-width="1.1"/>
<path d="M101.50,148.61 L133.29,117.04 L151.88,108.58 L165.08,107.46 L175.31,108.04 L183.67,109.43 L190.74,110.59 L196.87,110.86 L202.27,111.03 L207.10,111.18 L211.47,111.35 L215.46,111.49 L219.13,111.61 L222.53,111.73 L225.70,111.85 L228.66,111.97 L231.44,112.10 L234.06,112.22 L236.54,112.35 L238.89,112.49 L241.13,112.64 L243.26,112.80 L245.30,112.97 L247.25,113.14 L249.12,113.33 L250.92,113.52 L252.65,113.72 L254.32,113.92 L255.93,114.13 L257.48,114.34 L258.99,114.55 L261.01,114.84 L262.95,115.14 L264.95,115.46 L266.98,115.88 L268.92,116.37 L270.91,116.94 L272.92,117.58 L274.84,118.22 L276.89,118.92 L278.85,119.57 L280.82,120.20 L282.89,120.80 L284.86,121.30 L286.84,121.70 L288.81,122.11 L290.78,122.63 L292.80,123.32 L294.74,124.08 L296.73,124.91 L298.77,125.77 L300.71,126.58 L302.70,127.41 L304.70,128.28 L306.68,129.14 L308.68,130.03 L310.68,130.92 L312.65,131.79 L314.63,132.65 L316.65,133.51 L318.63,134.33 L320.60,135.12 L322.60,135.87 L324.59,136.59 L326.57,137.31 L328.56,138.04 L330.56,138.81 L332.53,139.64 L334.54,140.52 L336.52,141.37 L338.50,142.15 L340.49,142.81 L342.47,143.40 L344.47,143.96 L346.46,144.49 L348.44,144.98 L350.44,145.45 L352.43,145.89 L354.41,146.31 L356.40,146.69 L358.39,147.03 L360.38,147.34 L362.36,147.64 L364.35,147.96 L366.34,148.31 L368.32,148.56 L370.31,148.61 L372.30,148.61 L374.29,148.61 L376.28,148.61" stroke="#00bfff" stroke-width="1.1"/>
<path d="M101.50,148.61 L133.29,116.61 L151.88,108.01 L165.08,107.33 L175.31,108.69 L183.67,109.66 L190.74,110.28 L196.87,110.65 L202.27,110.93 L207.10,111.12 L211.47,111.25 L215.46,111.35 L219.13,111.43 L222.53,111.49 L225.70,111.55 L228.66,111.62 L231.44,111.69 L234.06,111.76 L236.54,111.85 L238.89,111.94 L241.13,112.05 L243.26,112.19 L245.30,112.35 L247.25,112.52 L249.12,112.71 L250.92,112.91 L252.65,113.12 L254.32,113.33 L255.93,113.54 L257.48,113.76 L258.99,113.98 L261.01,114.28 L262.95,114.59 L264.95,114.91 L266.98,115.33 L268.92,115.82 L270.91,116.39 L272.92,117.03 L274.84,117.67 L276.89,118.37 L278.85,119.02 L280.82,119.65 L282.89,120.25 L284.86,120.75 L286.84,121.15 L288.81,121.56 L290.78,122.08 L292.80,122.77 L294.74,123.52 L296.73,124.35 L298.77,125.22 L300.71,126.03 L302.70,126.87 L304.70,127.74 L306.68,128.62 L308.68,129.51 L310.68,130.41 L312.65,131.30 L314.63,132.17 L316.65,133.05 L318.63,133.88 L320.60,134.68 L322.60,135.45 L324.59,136.19 L326.57,136.93 L328.56,137.68 L330.56,138.47 L332.53,139.32 L334.54,140.22 L336.52,141.08 L338.50,141.88 L340.49,142.56 L342.47,143.17 L344.47,143.75 L346.46,144.30 L348.44,144.81 L350.44,145.30 L352.43,145.75 L354.41,146.19 L356.40,146.59 L358.39,146.95 L360.38,147.28 L362.36,147.60 L364.35,147.93 L366.34,148.29 L368.32,148.56 L370.31,148.61 L372.30,148.61 L374.29,148.61 L376.28,148.61" stroke="#00bfff" stroke-width="1.1"/>
<path d="M101.50,148.61 L133.29,116.29 L151.88,107.84 L165.08,106.90 L175.31,108.14 L183.67,109.08 L190.74,110.02 L196.87,110.57 L202.27,110.96 L207.10,111.19 L211.47,111.31 L215.46,111.39 L219.13,111.44 L222.53,111.49 L225.70,111.54 L228.66,111.58 L231.44,111.63 L234.06,111.69 L236.54,111.75 L238.89,111.83 L241.13,111.92 L243.26,112.05 L245.30,112.21 L247.25,112.38 L249.12,112.57 L250.92,112.77 L252.65,112.98 L254.32,113.20 L255.93,113.41 L257.48,113.64 L258.99,113.86 L261.01,114.17 L262.95,114.48 L264.95,114.80 L266.98,115.22 L268.92,115.71 L270.91,116.28 L272.92,116.92 L274.84,117.56 L276.89,118.25 L278.85,118.91 L280.82,119.54 L282.89,120.14 L284.86,120.63 L286.84,121.03 L288.81,121.44 L290.78,121.97 L292.80,122.66 L294.74,123.41 L296.73,124.24 L298.77,125.10 L300.71,125.92 L302.70,126.76 L304.70,127.63 L306.68,128.51 L308.68,129.41 L310.68,130.31 L312.65,131.20 L314.63,132.07 L316.65,132.95 L318.63,133.79 L320.60,134.59 L322.60,135.37 L324.59,136.11 L326.57,136.85 L328.56,137.60 L330.56,138.40 L332.53,139.25 L334.54,140.15 L336.52,141.03 L338.50,141.83 L340.49,142.51 L342.47,143.12 L344.47,143.70 L346.46,144.26 L348.44,144.77 L350.44,145.26 L352.43,145.73 L354.41,146.16 L356.40,146.57 L358.39,146.93 L360.38,147.27 L362.36,147.59 L364.35,147.92 L366.34,148.29 L368.32,148.56 L370.31,148.61 L372.30,148.61 L374.29,148.61 L376.28,148.61" stroke="#00bfff" stroke-width="1.1"/>
<path d="M101.50,148.61 L133.29,116.03 L151.88,107.80 L165.08,106.78 L175.31,107.82 L183.67,109.27 L190.74,109.97 L196.87,110.37 L202.27,110.66 L207.10,110.86 L211.47,111.00 L215.46,111.09 L219.13,111.17 L222.53,111.24 L225.70,111.30 L228.66,111.37 L231.44,111.44 L234.06,111.51 L236.54,111.60 L238.89,111.69 L241.13,111.81 L243.26,111.94 L245.30,112.10 L247.25,112.28 L249.12,112.47 L250.92,112.67 L252.65,112.87 L254.32,113.08 L255.93,113.30 L257.48,113.51 L258.99,113.73 L261.01,114.04 L262.95,114.34 L264.95,114.67 L266.98,115.08 L268.92,115.57 L270.91,116.15 L272.92,116.78 L274.84,117.42 L276.89,118.12 L278.85,118.77 L280.82,119.40 L282.89,120.00 L284.86,120.50 L286.84,120.90 L288.81,121.31 L290.78,121.84 L292.80,122.52 L294.74,123.27 L296.73,124.10 L298.77,124.97 L300.71,125.78 L302.70,126.62 L304.70,127.50 L306.68,128.38 L308.68,129.28 L310.68,130.19 L312.65,131.08 L314.63,131.96 L316.65,132.84 L318.63,133.68 L320.60,134.49 L322.60,135.27 L324.59,136.02 L326.57,136.76 L328.56,137.52 L330.56,138.31 L332.53,139.17 L334.54,140.08 L336.52,140.96 L338.50,141.76 L340.49,142.45 L342.47,143.07 L344.47,143.65 L346.46,144.21 L348.44,144.73 L350.44,145.23 L352.43,145.69 L354.41,146.13 L356.40,146.54 L358.39,146.91 L360.38,147.25 L362.36,147.58 L364.35,147.91 L366.34,148.29 L368.32,148.56 L370.31,148.61 L372.30,148.61 L374.29,148.61 L376.28,148.61" stroke="#00bfff" stroke-width="1.1"/>
<path d="M101.50,148.61 L133.29,115.54 L151.88,107.60 L165.08,106.63 L175.31,108.04 L183.67,108.31 L190.74,109.82 L196.87,110.42 L202.27,110.81 L207.10,111.01 L211.47,111.10 L215.46,111.15 L219.13,111.19 L222.53,111.22 L225.70,111.25 L228.66,111.28 L231.44,111.31 L234.06,111.35 L236.54,111.39 L238.89,111.45 L241.13,111.52 L243.26,111.64 L245.30,111.79 L247.25,111.96 L249.12,112.15 L250.92,112.36 L252.65,112.57 L254.32,112.79 L255.93,113.01 L257.48,113.24 L258.99,113.47 L261.01,113.78 L262.95,114.09 L264.95,114.42 L266.98,114.83 L268.92,115.33 L270.91,115.90 L272.92,116.54 L274.84,117.18 L276.89,117.87 L278.85,118.53 L280.82,119.15 L282.89,119.76 L284.86,120.25 L286.84,120.65 L288.81,121.06 L290.78,121.59 L292.80,122.28 L294.74,123.03 L296.73,123.86 L298.77,124.72 L300.71,125.54 L302.70,126.38 L304.70,127.26 L306.68,128.14 L308.68,129.05 L310.68,129.96 L312.65,130.86 L314.63,131.74 L316.65,132.63 L318.63,133.48 L320.60,134.29 L322.60,135.08 L324.59,135.84 L326.57,136.59 L328.56,137.36 L330.56,138.16 L332.53,139.03 L334.54,139.94 L336.52,140.83 L338.50,141.64 L340.49,142.34 L342.47,142.96 L344.47,143.56 L346.46,144.12 L348.44,144.65 L350.44,145.15 L352.43,145.63 L354.41,146.08 L356.40,146.49 L358.39,146.87 L360.38,147.22 L362.36,147.56 L364.35,147.90 L366.34,148.28 L368.32,148.56 L370.31,148.61 L372.30,148.61 L374.29,148.61 L376.28,148.61" stroke="#00bfff" stroke-width="1.1"/>
<path d="M101.50,148.61 L133.29,115.22 L151.88,107.33 L165.08,106.16 L175.31,107.70 L183.67,108.86 L190.74,109.76 L196.87,110.10 L202.27,110.33 L207.10,110.53 L211.47,110.73 L215.46,110.89 L219.13,111.04 L222.53,111.17 L225.70,111.30 L228.66,111.44 L231.44,111.57 L234.06,111.71 L236.54,111.85 L238.89,112.00 L241.13,112.15 L243.26,112.32 L245.30,112.49 L247.25,112.67 L249.12,112.86 L250.92,113.05 L252.65,113.25 L254.32,113.44 L255.93,113.65 L257.48,113.85 L258.99,114.06 L261.01,114.35 L262.95,114.65 L264.95,114.97 L266.98,115.39 L268.92,115.88 L270.91,116.45 L272.92,117.09 L274.84,117.73 L276.89,118.43 L278.85,119.08 L280.82,119.71 L282.89,120.31 L284.86,120.81 L286.84,121.21 L288.81,121.62 L290.78,122.14 L292.80,122.83 L294.74,123.58 L296.73,124.41 L298.77,125.28 L300.71,126.09 L302.70,126.92 L304.70,127.80 L306.68,128.67 L308.68,129.57 L310.68,130.47 L312.65,131.35 L314.63,132.22 L316.65,133.10 L318.63,133.93 L320.60,134.73 L322.60,135.50 L324.59,136.24 L326.57,136.97 L328.56,137.72 L330.56,138.50 L332.53,139.35 L334.54,140.25 L336.52,141.12 L338.50,141.91 L340.49,142.59 L342.47,143.19 L344.47,143.77 L346.46,144.32 L348.44,144.83 L350.44,145.31 L352.43,145.77 L354.41,146.20 L356.40,146.60 L358.39,146.96 L360.38,147.29 L362.36,147.60 L364.35,147.93 L366.34,148.30 L368.32,148.56 L370.31,148.61 L372.30,148.61 L374.29,148.61 L376.28,148.61" stroke="#00bfff" stroke-width="1.1"/>
<path d="M101.50,148.61 L133.29,114.88 L151.88,107.25 L165.08,105.91 L175.31,107.22 L183.67,108.19 L190.74,109.30 L196.87,109.84 L202.27,110.21 L207.10,110.46 L211.47,110.63 L215.46,110.76 L219.13,110.86 L222.53,110.94 L225.70,111.02 L228.66,111.11 L231.44,111.19 L234.06,111.29 L236.54,111.39 L238.89,111.50 L241.13,111.63 L243.26,111.77 L245.30,111.94 L247.25,112.12 L249.12,112.30 L250.92,112.50 L252.65,112.70 L254.32,112.91 L255.93,113.12 L257.48,113.33 L258.99,113.55 L261.01,113.85 L262.95,114.15 L264.95,114.47 L266.98,114.89 L268.92,115.38 L270.91,115.95 L272.92,116.59 L274.84,117.23 L276.89,117.93 L278.85,118.58 L280.82,119.21 L282.89,119.81 L284.86,120.31 L286.84,120.71 L288.81,121.12 L290.78,121.64 L292.80,122.33 L294.74,123.08 L296.73,123.91 L298.77,124.77 L300.71,125.59 L302.70,126.43 L304.70,127.31 L306.68,128.20 L308.68,129.10 L310.68,130.01 L312.65,130.90 L314.63,131.79 L316.65,132.68 L318.63,133.52 L320.60,134.33 L322.60,135.12 L324.59,135.88 L326.57,136.62 L328.56,137.39 L330.56,138.19 L332.53,139.06 L334.54,139.97 L336.52,140.86 L338.50,141.67 L340.49,142.36 L342.47,142.98 L344.47,143.58 L346.46,144.14 L348.44,144.67 L350.44,145.17 L352.43,145.64 L354.41,146.09 L356.40,146.50 L358.39,146.88 L360.38,147.23 L362.36,147.56 L364.35,147.90 L366.34,148.28 L368.32,148.56 L370.31,148.61 L372.30,148.61 L374.29,148.61 L376.28,148.61" stroke="#00bfff" stroke-width="1.1"/>
<path d="M101.50,148.61 L133.29,114.68 L151.88,107.25 L165.08,106.17 L175.31,107.11 L183.67,108.27 L190.74,109.43 L196.87,109.84 L202.27,110.10 L207.10,110.32 L211.47,110.51 L215.46,110.66 L219.13,110.80 L222.53,110.92 L225.70,111.04 L228.66,111.16 L231.44,111.28 L234.06,111.41 L236.54,111.54 L238.89,111.68 L241.13,111.83 L243.26,111.99 L245.30,112.16 L247.25,112.34 L249.12,112.53 L250.92,112.72 L252.65,112.92 L254.32,113.12 L255.93,113.32 L257.48,113.53 L258.99,113.74 L261.01,114.03 L262.95,114.33 L264.95,114.65 L266.98,115.07 L268.92,115.56 L270.91,116.13 L272.92,116.77 L274.84,117.41 L276.89,118.10 L278.85,118.76 L280.82,119.39 L282.89,119.99 L284.86,120.48 L286.84,120.89 L288.81,121.30 L290.78,121.82 L292.80,122.51 L294.74,123.26 L296.73,124.09 L298.77,124.96 L300.71,125.77 L302.70,126.61 L304.70,127.49 L306.68,128.37 L308.68,129.27 L310.68,130.18 L312.65,131.06 L314.63,131.95 L316.65,132.83 L318.63,133.67 L320.60,134.48 L322.60,135.25 L324.59,136.01 L326.57,136.75 L328.56,137.51 L330.56,138.31 L332.53,139.16 L334.54,140.07 L336.52,140.95 L338.50,141.75 L340.49,142.44 L342.47,143.06 L344.47,143.65 L346.46,144.20 L348.44,144.72 L350.44,145.22 L352.43,145.69 L354.41,146.13 L356.40,146.54 L358.39,146.91 L360.38,147.25 L362.36,147.57 L364.35,147.91 L366.34,148.29 L368.32,148.56 L370.31,148.61 L372.30,148.61 L374.29,148.61 L376.28,148.61" stroke="#00bfff" stroke-width="1.1"/>
<path d="M101.50,148.61 L133.29,113.85 L151.88,106.77 L165.08,105.62 L175.31,107.17 L183.67,107.79 L190.74,108.85 L196.87,109.39 L202.27,109.77 L207.10,110.04 L211.47,110.24 L215.46,110.39 L219.13,110.51 L222.53,110.62 L225.70,110.72 L228.66,110.82 L231.44,110.93 L234.06,111.04 L236.54,111.16 L238.89,111.29 L241.13,111.43 L243.26,111.59 L245.30,111.76 L247.25,111.94 L249.12,112.12 L250.92,112.32 L252.65,112.52 L254.32,112.72 L255.93,112.92 L257.48,113.13 L258.99,113.34 L261.01,113.64 L262.95,113.94 L264.95,114.26 L266.98,114.68 L268.92,115.17 L270.91,115.74 L272.92,116.38 L274.84,117.02 L276.89,117.72 L278.85,118.37 L280.82,119.00 L282.89,119.60 L284.86,120.10 L286.84,120.50 L288.81,120.91 L290.78,121.43 L292.80,122.12 L294.74,122.87 L296.73,123.70 L298.77,124.56 L300.71,125.38 L302.70,126.23 L304.70,127.11 L306.68,128.00 L308.68,128.90 L310.68,129.82 L312.65,130.72 L314.63,131.61 L316.65,132.50 L318.63,133.35 L320.60,134.17 L322.60,134.96 L324.59,135.72 L326.57,136.48 L328.56,137.25 L330.56,138.06 L332.53,138.93 L334.54,139.86 L336.52,140.75 L338.50,141.56 L340.49,142.27 L342.47,142.90 L344.47,143.50 L346.46,144.07 L348.44,144.60 L350.44,145.11 L352.43,145.59 L354.41,146.04 L356.40,146.47 L358.39,146.85 L360.38,147.21 L362.36,147.54 L364.35,147.89 L366.34,148.28 L368.32,148.56 L370.31,148.61 L372.30,148.61 L374.29,148.61 L376.28,148.61" stroke="#00bfff" stroke-width="1.1"/>
<path d="M101.50,148.61 L133.29,113.52 L151.88,106.59 L165.08,105.52 L175.31,106.69 L183.67,107.90 L190.74,108.65 L196.87,109.05 L202.27,109.34 L207.10,109.59 L211.47,109.79 L215.46,109.96 L219.13,110.11 L222.53,110.24 L225.70,110.37 L228.66,110.49 L231.44,110.62 L234.06,110.76 L236.54,110.90 L238.89,111.04 L241.13,111.20 L243.26,111.36 L245.30,111.53 L247.25,111.71 L249.12,111.90 L250.92,112.09 L252.65,112.29 L254.32,112.49 L255.93,112.69 L257.48,112.89 L258.99,113.10 L261.01,113.40 L262.95,113.69 L264.95,114.02 L266.98,114.43 L268.92,114.92 L270.91,115.50 L272.92,116.13 L274.84,116.77 L276.89,117.47 L278.85,118.12 L280.82,118.75 L282.89,119.35 L284.86,119.85 L286.84,120.25 L288.81,120.66 L290.78,121.19 L292.80,121.87 L294.74,122.62 L296.73,123.45 L298.77,124.32 L300.71,125.13 L302.70,125.98 L304.70,126.87 L306.68,127.76 L308.68,128.67 L310.68,129.59 L312.65,130.49 L314.63,131.39 L316.65,132.29 L318.63,133.15 L320.60,133.97 L322.60,134.77 L324.59,135.55 L326.57,136.31 L328.56,137.09 L330.56,137.91 L332.53,138.79 L334.54,139.72 L336.52,140.62 L338.50,141.44 L340.49,142.15 L342.47,142.79 L344.47,143.40 L346.46,143.98 L348.44,144.52 L350.44,145.04 L352.43,145.53 L354.41,145.99 L356.40,146.42 L358.39,146.81 L360.38,147.18 L362.36,147.52 L364.35,147.88 L366.34,148.27 L368.32,148.55 L370.31,148.61 L372.30,148.61 L374.29,148.61 L376.28,148.61" stroke="#00bfff" stroke-width="1.1"/>
<path d="M101.50,148.61 L133.29,112.97 L151.88,106.52 L165.08,105.44 L175.31,106.17 L183.67,108.01 L190.74,108.34 L196.87,108.86 L202.27,109.42 L207.10,109.77 L211.47,109.95 L215.46,110.08 L219.13,110.18 L222.53,110.27 L225.70,110.34 L228.66,110.42 L231.44,110.50 L234.06,110.59 L236.54,110.69 L238.89,110.81 L241.13,110.93 L243.26,111.08 L245.30,111.25 L247.25,111.42 L249.12,111.61 L250.92,111.81 L252.65,112.01 L254.32,112.22 L255.93,112.43 L257.48,112.65 L258.99,112.86 L261.01,113.17 L262.95,113.47 L264.95,113.80 L266.98,114.21 L268.92,114.71 L270.91,115.28 L272.92,115.93 L274.84,116.57 L276.89,117.27 L278.85,117.93 L280.82,118.56 L282.89,119.17 L284.86,119.67 L286.84,120.08 L288.81,120.49 L290.78,121.02 L292.80,121.71 L294.74,122.46 L296.73,123.30 L298.77,124.17 L300.71,124.99 L302.70,125.84 L304.70,126.74 L306.68,127.63 L308.68,128.55 L310.68,129.48 L312.65,130.39 L314.63,131.29 L316.65,132.20 L318.63,133.06 L320.60,133.89 L322.60,134.70 L324.59,135.48 L326.57,136.25 L328.56,137.04 L330.56,137.86 L332.53,138.75 L334.54,139.68 L336.52,140.58 L338.50,141.41 L340.49,142.13 L342.47,142.77 L344.47,143.38 L346.46,143.96 L348.44,144.51 L350.44,145.03 L352.43,145.52 L354.41,145.98 L356.40,146.41 L358.39,146.81 L360.38,147.17 L362.36,147.52 L364.35,147.88 L366.34,148.27 L368.32,148.55 L370.31,148.61 L372.30,148.61 L374.29,148.61 L376.28,148.61" stroke="#00bfff" stroke-width="1.1"/>
<path d="M101.50,148.61 L133.29,112.42 L151.88,106.22 L165.08,105.00 L175.31,106.49 L183.67,107.85 L190.74,108.67 L196.87,109.14 L202.27,109.48 L207.10,109.68 L211.47,109.80 L215.46,109.88 L219.13,109.93 L222.53,109.98 L225.70,110.03 L228.66,110.08 L231.44,110.13 L234.06,110.19 L236.54,110.26 L238.89,110.33 L241.13,110.43 L243.26,110.56 L245.30,110.72 L247.25,110.90 L249.12,111.09 L250.92,111.29 L252.65,111.51 L254.32,111.73 L255.93,111.95 L257.48,112.17 L258.99,112.40 L261.01,112.72 L262.95,113.03 L264.95,113.36 L266.98,113.78 L268.92,114.29 L270.91,114.87 L272.92,115.53 L274.84,116.18 L276.89,116.89 L278.85,117.57 L280.82,118.21 L282.89,118.83 L284.86,119.34 L286.84,119.76 L288.81,120.18 L290.78,120.72 L292.80,121.42 L294.74,122.18 L296.73,123.03 L298.77,123.91 L300.71,124.74 L302.70,125.61 L304.70,126.51 L306.68,127.42 L308.68,128.36 L310.68,129.30 L312.65,130.22 L314.63,131.14 L316.65,132.06 L318.63,132.94 L320.60,133.78 L322.60,134.60 L324.59,135.39 L326.57,136.17 L328.56,136.97 L330.56,137.80 L332.53,138.70 L334.54,139.64 L336.52,140.55 L338.50,141.39 L340.49,142.11 L342.47,142.76 L344.47,143.37 L346.46,143.95 L348.44,144.50 L350.44,145.02 L352.43,145.52 L354.41,145.98 L356.40,146.41 L358.39,146.81 L360.38,147.17 L362.36,147.52 L364.35,147.88 L366.34,148.27 L368.32,148.55 L370.31,148.61 L372.30,148.61 L374.29,148.61 L376.28,148.61" stroke="#00bfff" stroke-width="1.1"/>
<path d="M101.50,148.61 L133.29,112.33 L151.88,105.63 L165.08,105.50 L175.31,106.24 L183.67,107.43 L190.74,108.53 L196.87,108.80 L202.27,108.96 L207.10,109.11 L211.47,109.27 L215.46,109.41 L219.13,109.54 L222.53,109.66 L225.70,109.78 L228.66,109.90 L231.44,110.02 L234.06,110.15 L236.54,110.28 L238.89,110.41 L241.13,110.56 L243.26,110.72 L245.30,110.89 L247.25,111.07 L249.12,111.26 L250.92,111.46 L252.65,111.66 L254.32,111.86 L255.93,112.07 L257.48,112.29 L258.99,112.50 L261.01,112.80 L262.95,113.10 L264.95,113.43 L266.98,113.86 L268.92,114.36 L270.91,114.94 L272.92,115.59 L274.84,116.25 L276.89,116.96 L278.85,117.63 L280.82,118.27 L282.89,118.89 L284.86,119.40 L286.84,119.81 L288.81,120.23 L290.78,120.77 L292.80,121.47 L294.74,122.23 L296.73,123.07 L298.77,123.95 L300.71,124.78 L302.70,125.65 L304.70,126.55 L306.68,127.46 L308.68,128.39 L310.68,129.33 L312.65,130.25 L314.63,131.17 L316.65,132.08 L318.63,132.96 L320.60,133.80 L322.60,134.61 L324.59,135.40 L326.57,136.18 L328.56,136.98 L330.56,137.81 L332.53,138.71 L334.54,139.65 L336.52,140.56 L338.50,141.39 L340.49,142.11 L342.47,142.76 L344.47,143.37 L346.46,143.96 L348.44,144.50 L350.44,145.02 L352.43,145.52 L354.41,145.98 L356.40,146.41 L358.39,146.81 L360.38,147.17 L362.36,147.52 L364.35,147.88 L366.34,148.27 L368.32,148.55 L370.31,148.61 L372.30,148.61 L374.29,148.61 L376.28,148.61" stroke="#00bfff" stroke-width="1.1"/>
<path d="M101.50,148.61 L133.29,111.97 L151.88,105.73 L165.08,104.01 L175.31,106.00 L183.67,107.32 L190.74,108.40 L196.87,108.75 L202.27,108.97 L207.10,109.17 L211.47,109.37 L215.46,109.54 L219.13,109.70 L222.53,109.84 L225.70,109.98 L228.66,110.12 L231.44,110.26 L234.06,110.41 L236.54,110.56 L238.89,110.71 L241.13,110.87 L243.26,111.04 L245.30,111.21 L247.25,111.40 L249.12,111.58 L250.92,111.77 L252.65,111.97 L254.32,112.17 L255.93,112.37 L257.48,112.58 L258.99,112.79 L261.01,113.08 L262.95,113.38 L264.95,113.71 L266.98,114.13 L268.92,114.62 L270.91,115.20 L272.92,115.85 L274.84,116.49 L276.89,117.20 L278.85,117.86 L280.82,118.49 L282.89,119.10 L284.86,119.60 L286.84,120.01 L288.81,120.43 L290.78,120.96 L292.80,121.65 L294.74,122.41 L296.73,123.24 L298.77,124.12 L300.71,124.94 L302.70,125.80 L304.70,126.69 L306.68,127.59 L308.68,128.51 L310.68,129.44 L312.65,130.36 L314.63,131.26 L316.65,132.17 L318.63,133.04 L320.60,133.87 L322.60,134.68 L324.59,135.46 L326.57,136.23 L328.56,137.02 L330.56,137.85 L332.53,138.74 L334.54,139.67 L336.52,140.58 L338.50,141.41 L340.49,142.12 L342.47,142.77 L344.47,143.38 L346.46,143.96 L348.44,144.51 L350.44,145.03 L352.43,145.52 L354.41,145.98 L356.40,146.41 L358.39,146.81 L360.38,147.17 L362.36,147.52 L364.35,147.88 L366.34,148.27 L368.32,148.55 L370.31,148.61 L372.30,148.61 L374.29,148.61 L376.28,148.61" stroke="#00bfff" stroke-width="1.1"/>
<path d="M101.50,148.61 L133.29,111.57 L151.88,105.06 L165.08,104.20 L175.31,105.72 L183.67,106.96 L190.74,107.69 L196.87,108.22 L202.27,108.64 L207.10,108.90 L211.47,109.06 L215.46,109.16 L219.13,109.24 L222.53,109.31 L225.70,109.38 L228.66,109.44 L231.44,109.51 L234.06,109.59 L236.54,109.68 L238.89,109.78 L241.13,109.89 L243.26,110.04 L245.30,110.20 L247.25,110.38 L249.12,110.58 L250.92,110.78 L252.65,110.99 L254.32,111.21 L255.93,111.43 L257.48,111.66 L258.99,111.88 L261.01,112.20 L262.95,112.51 L264.95,112.85 L266.98,113.28 L268.92,113.79 L270.91,114.39 L272.92,115.05 L274.84,115.72 L276.89,116.45 L278.85,117.14 L280.82,117.79 L282.89,118.43 L284.86,118.95 L286.84,119.38 L288.81,119.81 L290.78,120.37 L292.80,121.08 L294.74,121.85 L296.73,122.71 L298.77,123.60 L300.71,124.45 L302.70,125.33 L304.70,126.25 L306.68,127.18 L308.68,128.13 L310.68,129.09 L312.65,130.02 L314.63,130.96 L316.65,131.89 L318.63,132.79 L320.60,133.64 L322.60,134.48 L324.59,135.28 L326.57,136.08 L328.56,136.89 L330.56,137.74 L332.53,138.64 L334.54,139.59 L336.52,140.52 L338.50,141.36 L340.49,142.08 L342.47,142.74 L344.47,143.36 L346.46,143.94 L348.44,144.49 L350.44,145.02 L352.43,145.51 L354.41,145.98 L356.40,146.41 L358.39,146.81 L360.38,147.17 L362.36,147.52 L364.35,147.88 L366.34,148.27 L368.32,148.55 L370.31,148.61 L372.30,148.61 L374.29,148.61 L376.28,148.61" stroke="#00bfff" stroke-width="1.1"/>
<path d="M101.50,148.61 L133.29,110.89 L151.88,105.40 L165.08,103.84 L175.31,106.23 L183.67,107.18 L190.74,107.90 L196.87,108.42 L202.27,108.82 L207.10,109.09 L211.47,109.27 L215.46,109.39 L219.13,109.50 L222.53,109.58 L225.70,109.66 L228.66,109.75 L231.44,109.83 L234.06,109.93 L236.54,110.03 L238.89,110.14 L241.13,110.27 L243.26,110.42 L245.30,110.59 L247.25,110.77 L249.12,110.96 L250.92,111.16 L252.65,111.37 L254.32,111.58 L255.93,111.80 L257.48,112.02 L258.99,112.24 L261.01,112.54 L262.95,112.85 L264.95,113.19 L266.98,113.61 L268.92,114.12 L270.91,114.71 L272.92,115.36 L274.84,116.03 L276.89,116.74 L278.85,117.42 L280.82,118.07 L282.89,118.69 L284.86,119.21 L286.84,119.63 L288.81,120.05 L290.78,120.60 L292.80,121.30 L294.74,122.07 L296.73,122.92 L298.77,123.80 L300.71,124.64 L302.70,125.51 L304.70,126.42 L306.68,127.34 L308.68,128.28 L310.68,129.23 L312.65,130.15 L314.63,131.08 L316.65,132.00 L318.63,132.89 L320.60,133.73 L322.60,134.56 L324.59,135.35 L326.57,136.14 L328.56,136.94 L330.56,137.78 L332.53,138.68 L334.54,139.63 L336.52,140.54 L338.50,141.38 L340.49,142.10 L342.47,142.75 L344.47,143.37 L346.46,143.95 L348.44,144.50 L350.44,145.02 L352.43,145.52 L354.41,145.98 L356.40,146.41 L358.39,146.81 L360.38,147.17 L362.36,147.52 L364.35,147.88 L366.34,148.27 L368.32,148.55 L370.31,148.61 L372.30,148.61 L374.29,148.61 L376.28,148.61" stroke="#00bfff" stroke-width="1.1"/>
<path d="M101.50,148.61 L133.29,110.91 L151.88,105.39 L165.08,103.40 L175.31,105.35 L183.67,106.89 L190.74,107.49 L196.87,108.03 L202.27,108.48 L207.10,108.77 L211.47,108.94 L215.46,109.06 L219.13,109.15 L222.53,109.23 L225.70,109.31 L228.66,109.38 L231.44,109.46 L234.06,109.55 L236.54,109.64 L238.89,109.75 L241.13,109.87 L243.26,110.02 L245.30,110.19 L247.25,110.37 L249.12,110.57 L250.92,110.77 L252.65,110.98 L254.32,111.19 L255.93,111.41 L257.48,111.64 L258.99,111.86 L261.01,112.17 L262.95,112.49 L264.95,112.82 L266.98,113.25 L268.92,113.77 L270.91,114.37 L272.92,115.03 L274.84,115.70 L276.89,116.43 L278.85,117.12 L280.82,117.77 L282.89,118.41 L284.86,118.93 L286.84,119.36 L288.81,119.80 L290.78,120.35 L292.80,121.06 L294.74,121.84 L296.73,122.69 L298.77,123.59 L300.71,124.44 L302.70,125.32 L304.70,126.24 L306.68,127.16 L308.68,128.11 L310.68,129.07 L312.65,130.01 L314.63,130.95 L316.65,131.89 L318.63,132.78 L320.60,133.64 L322.60,134.47 L324.59,135.28 L326.57,136.07 L328.56,136.88 L330.56,137.73 L332.53,138.64 L334.54,139.59 L336.52,140.51 L338.50,141.36 L340.49,142.08 L342.47,142.74 L344.47,143.36 L346.46,143.94 L348.44,144.49 L350.44,145.02 L352.43,145.51 L354.41,145.98 L356.40,146.41 L358.39,146.81 L360.38,147.17 L362.36,147.52 L364.35,147.88 L366.34,148.27 L368.32,148.55 L370.31,148.61 L372.30,148.61 L374.29,148.61 L376.28,148.61" stroke="#00bfff" stroke-width="1.1"/>
<path d="M101.50,148.61 L133.29,110.29 L151.88,104.66 L165.08,104.15 L175.31,105.13 L183.67,106.68 L190.74,107.90 L196.87,108.08 L202.27,108.18 L207.10,108.31 L211.47,108.47 L215.46,108.63 L219.13,108.80 L222.53,108.98 L225.70,109.15 L228.66,109.32 L231.44,109.50 L234.06,109.67 L236.54,109.84 L238.89,110.01 L241.13,110.18 L243.26,110.35 L245.30,110.53 L247.25,110.72 L249.12,110.91 L250.92,111.10 L252.65,111.30 L254.32,111.50 L255.93,111.71 L257.48,111.92 L258.99,112.13 L261.01,112.43 L262.95,112.73 L264.95,113.06 L266.98,113.49 L268.92,114.00 L270.91,114.59 L272.92,115.25 L274.84,115.91 L276.89,116.63 L278.85,117.31 L280.82,117.97 L282.89,118.59 L284.86,119.11 L286.84,119.53 L288.81,119.96 L290.78,120.51 L292.80,121.22 L294.74,121.99 L296.73,122.84 L298.77,123.73 L300.71,124.57 L302.70,125.44 L304.70,126.36 L306.68,127.28 L308.68,128.22 L310.68,129.17 L312.65,130.11 L314.63,131.03 L316.65,131.96 L318.63,132.85 L320.60,133.70 L322.60,134.53 L324.59,135.33 L326.57,136.11 L328.56,136.92 L330.56,137.76 L332.53,138.66 L334.54,139.61 L336.52,140.53 L338.50,141.37 L340.49,142.09 L342.47,142.74 L344.47,143.36 L346.46,143.95 L348.44,144.50 L350.44,145.02 L352.43,145.51 L354.41,145.98 L356.40,146.41 L358.39,146.81 L360.38,147.17 L362.36,147.52 L364.35,147.88 L366.34,148.27 L368.32,148.55 L370.31,148.61 L372.30,148.61 L374.29,148.61 L376.28,148.61" stroke="#00bfff" stroke-width="1.1"/>
<path d="M101.50,148.61 L133.29,109.62 L151.88,104.72 L165.08,103.44 L175.31,105.10 L183.67,106.33 L190.74,107.90 L196.87,108.12 L202.27,108.24 L207.10,108.38 L211.47,108.53 L215.46,108.67 L219.13,108.81 L222.53,108.95 L225.70,109.09 L228.66,109.23 L231.44,109.37 L234.06,109.51 L236.54,109.65 L238.89,109.80 L241.13,109.95 L243.26,110.12 L245.30,110.30 L247.25,110.48 L249.12,110.67 L250.92,110.87 L252.65,111.07 L254.32,111.28 L255.93,111.49 L257.48,111.71 L258.99,111.92 L261.01,112.23 L262.95,112.53 L264.95,112.87 L266.98,113.30 L268.92,113.81 L270.91,114.41 L272.92,115.07 L274.84,115.74 L276.89,116.47 L278.85,117.15 L280.82,117.81 L282.89,118.44 L284.86,118.97 L286.84,119.39 L288.81,119.83 L290.78,120.38 L292.80,121.09 L294.74,121.87 L296.73,122.72 L298.77,123.61 L300.71,124.46 L302.70,125.34 L304.70,126.26 L306.68,127.19 L308.68,128.13 L310.68,129.09 L312.65,130.03 L314.63,130.97 L316.65,131.90 L318.63,132.79 L320.60,133.65 L322.60,134.48 L324.59,135.29 L326.57,136.08 L328.56,136.89 L330.56,137.74 L332.53,138.64 L334.54,139.60 L336.52,140.52 L338.50,141.36 L340.49,142.08 L342.47,142.74 L344.47,143.36 L346.46,143.95 L348.44,144.49 L350.44,145.02 L352.43,145.51 L354.41,145.98 L356.40,146.41 L358.39,146.81 L360.38,147.17 L362.36,147.52 L364.35,147.88 L366.34,148.27 L368.32,148.55 L370.31,148.61 L372.30,148.61 L374.29,148.61 L376.28,148.61" stroke="#00bfff" stroke-width="1.1"/>
<path d="M101.50,148.61 L133.29,109.54 L151.88,104.65 L165.08,103.25 L175.31,105.13 L183.67,105.94 L190.74,106.76 L196.87,107.41 L202.27,107.93 L207.10,108.28 L211.47,108.49 L215.46,108.64 L219.13,108.76 L222.53,108.86 L225.70,108.96 L228.66,109.05 L231.44,109.15 L234.06,109.26 L236.54,109.38 L238.89,109.50 L241.13,109.65 L243.26,109.81 L245.30,109.98 L247.25,110.17 L249.12,110.36 L250.92,110.56 L252.65,110.77 L254.32,110.98 L255.93,111.20 L257.48,111.41 L258.99,111.64 L261.01,111.95 L262.95,112.26 L264.95,112.60 L266.98,113.03 L268.92,113.55 L270.91,114.15 L272.92,114.82 L274.84,115.50 L276.89,116.23 L278.85,116.93 L280.82,117.59 L282.89,118.23 L284.86,118.76 L286.84,119.19 L288.81,119.63 L290.78,120.20 L292.80,120.91 L294.74,121.69 L296.73,122.55 L298.77,123.45 L300.71,124.31 L302.70,125.19 L304.70,126.12 L306.68,127.06 L308.68,128.01 L310.68,128.98 L312.65,129.93 L314.63,130.87 L316.65,131.81 L318.63,132.71 L320.60,133.58 L322.60,134.42 L324.59,135.23 L326.57,136.03 L328.56,136.85 L330.56,137.70 L332.53,138.61 L334.54,139.57 L336.52,140.50 L338.50,141.34 L340.49,142.07 L342.47,142.73 L344.47,143.35 L346.46,143.94 L348.44,144.49 L350.44,145.02 L352.43,145.51 L354.41,145.98 L356.40,146.42 L358.39,146.81 L360.38,147.17 L362.36,147.52 L364.35,147.88 L366.34,148.27 L368.32,148.55 L370.31,148.61 L372.30,148.61 L374.29,148.61 L376.28,148.61" stroke="#00bfff" stroke-width="1.1"/>
<path d="M101.50,148.61 L133.29,109.16 L151.88,104.15 L165.08,102.74 L175.31,105.03 L183.67,106.34 L190.74,107.38 L196.87,107.80 L202.27,108.09 L207.10,108.33 L211.47,108.53 L215.46,108.69 L219.13,108.83 L222.53,108.96 L225.70,109.08 L228.66,109.20 L231.44,109.32 L234.06,109.45 L236.54,109.59 L238.89,109.73 L241.13,109.88 L243.26,110.05 L245.30,110.23 L247.25,110.41 L249.12,110.60 L250.92,110.80 L252.65,111.01 L254.32,111.21 L255.93,111.43 L257.48,111.64 L258.99,111.86 L261.01,112.16 L262.95,112.47 L264.95,112.81 L266.98,113.24 L268.92,113.75 L270.91,114.35 L272.92,115.01 L274.84,115.69 L276.89,116.41 L278.85,117.10 L280.82,117.76 L282.89,118.39 L284.86,118.92 L286.84,119.35 L288.81,119.78 L290.78,120.34 L292.80,121.05 L294.74,121.83 L296.73,122.68 L298.77,123.58 L300.71,124.43 L302.70,125.31 L304.70,126.23 L306.68,127.16 L308.68,128.11 L310.68,129.07 L312.65,130.01 L314.63,130.94 L316.65,131.88 L318.63,132.77 L320.60,133.63 L322.60,134.47 L324.59,135.27 L326.57,136.07 L328.56,136.88 L330.56,137.73 L332.53,138.63 L334.54,139.59 L336.52,140.51 L338.50,141.36 L340.49,142.08 L342.47,142.74 L344.47,143.36 L346.46,143.94 L348.44,144.49 L350.44,145.02 L352.43,145.51 L354.41,145.98 L356.40,146.41 L358.39,146.81 L360.38,147.17 L362.36,147.52 L364.35,147.88 L366.34,148.27 L368.32,148.55 L370.31,148.61 L372.30,148.61 L374.29,148.61 L376.28,148.61" stroke="#00bfff" stroke-width="1.1"/>
<path d="M101.50,148.61 L133.29,108.76 L151.88,104.52 L165.08,102.62 L175.31,104.35 L183.67,106.26 L190.74,107.20 L196.87,107.60 L202.27,107.86 L207.10,108.05 L211.47,108.18 L215.46,108.28 L219.13,108.35 L222.53,108.42 L225.70,108.48 L228.66,108.55 L231.44,108.62 L234.06,108.69 L236.54,108.78 L238.89,108.87 L241.13,108.99 L243.26,109.13 L245.30,109.30 L247.25,109.48 L249.12,109.68 L250.92,109.89 L252.65,110.11 L254.32,110.33 L255.93,110.56 L257.48,110.79 L258.99,111.02 L261.01,111.35 L262.95,111.67 L264.95,112.02 L266.98,112.46 L268.92,112.98 L270.91,113.60 L272.92,114.29 L274.84,114.98 L276.89,115.73 L278.85,116.44 L280.82,117.12 L282.89,117.77 L284.86,118.32 L286.84,118.76 L288.81,119.22 L290.78,119.79 L292.80,120.53 L294.74,121.32 L296.73,122.19 L298.77,123.11 L300.71,123.97 L302.70,124.88 L304.70,125.82 L306.68,126.78 L308.68,127.75 L310.68,128.74 L312.65,129.70 L314.63,130.66 L316.65,131.63 L318.63,132.54 L320.60,133.42 L322.60,134.28 L324.59,135.11 L326.57,135.92 L328.56,136.76 L330.56,137.62 L332.53,138.55 L334.54,139.52 L336.52,140.45 L338.50,141.31 L340.49,142.05 L342.47,142.71 L344.47,143.33 L346.46,143.93 L348.44,144.48 L350.44,145.01 L352.43,145.51 L354.41,145.98 L356.40,146.42 L358.39,146.81 L360.38,147.18 L362.36,147.52 L364.35,147.88 L366.34,148.27 L368.32,148.55 L370.31,148.61 L372.30,148.61 L374.29,148.61 L376.28,148.61" stroke="#00bfff" stroke-width="1.1"/>
<path d="M101.50,148.61 L133.29,108.66 L151.88,104.39 L165.08,102.77 L175.31,104.29 L183.67,106.00 L190.74,106.42 L196.87,106.91 L202.27,107.36 L207.10,107.69 L211.47,107.89 L215.46,108.04 L219.13,108.17 L222.53,108.27 L225.70,108.37 L228.66,108.47 L231.44,108.58 L234.06,108.69 L236.54,108.81 L238.89,108.94 L241.13,109.09 L243.26,109.25 L245.30,109.43 L247.25,109.61 L249.12,109.81 L250.92,110.01 L252.65,110.22 L254.32,110.44 L255.93,110.66 L257.48,110.88 L258.99,111.10 L261.01,111.42 L262.95,111.74 L264.95,112.08 L266.98,112.52 L268.92,113.05 L270.91,113.66 L272.92,114.35 L274.84,115.04 L276.89,115.78 L278.85,116.49 L280.82,117.17 L282.89,117.82 L284.86,118.37 L286.84,118.81 L288.81,119.26 L290.78,119.84 L292.80,120.57 L294.74,121.36 L296.73,122.23 L298.77,123.14 L300.71,124.01 L302.70,124.91 L304.70,125.86 L306.68,126.81 L308.68,127.78 L310.68,128.76 L312.65,129.73 L314.63,130.69 L316.65,131.65 L318.63,132.56 L320.60,133.44 L322.60,134.29 L324.59,135.12 L326.57,135.93 L328.56,136.77 L330.56,137.63 L332.53,138.55 L334.54,139.52 L336.52,140.46 L338.50,141.31 L340.49,142.05 L342.47,142.71 L344.47,143.34 L346.46,143.93 L348.44,144.48 L350.44,145.01 L352.43,145.51 L354.41,145.98 L356.40,146.42 L358.39,146.81 L360.38,147.18 L362.36,147.52 L364.35,147.88 L366.34,148.27 L368.32,148.55 L370.31,148.61 L372.30,148.61 L374.29,148.61 L376.28,148.61" stroke="#00bfff" stroke-width="1.1"/>
<path d="M101.50,148.61 L133.29,108.28 L151.88,103.86 L165.08,102.58 L175.31,104.72 L183.67,105.61 L190.74,107.05 L196.87,107.30 L202.27,107.43 L207.10,107.59 L211.47,107.77 L215.46,107.94 L219.13,108.10 L222.53,108.26 L225.70,108.42 L228.66,108.59 L231.44,108.75 L234.06,108.91 L236.54,109.07 L238.89,109.24 L241.13,109.41 L243.26,109.58 L245.30,109.77 L247.25,109.96 L249.12,110.15 L250.92,110.35 L252.65,110.55 L254.32,110.76 L255.93,110.97 L257.48,111.18 L258.99,111.40 L261.01,111.70 L262.95,112.01 L264.95,112.35 L266.98,112.79 L268.92,113.31 L270.91,113.92 L272.92,114.60 L274.84,115.28 L276.89,116.02 L278.85,116.72 L280.82,117.39 L282.89,118.04 L284.86,118.57 L286.84,119.01 L288.81,119.46 L290.78,120.03 L292.80,120.75 L294.74,121.54 L296.73,122.40 L298.77,123.31 L300.71,124.17 L302.70,125.06 L304.70,126.00 L306.68,126.94 L308.68,127.90 L310.68,128.88 L312.65,129.83 L314.63,130.78 L316.65,131.73 L318.63,132.64 L320.60,133.51 L322.60,134.36 L324.59,135.18 L326.57,135.98 L328.56,136.81 L330.56,137.67 L332.53,138.58 L334.54,139.55 L336.52,140.48 L338.50,141.33 L340.49,142.06 L342.47,142.72 L344.47,143.34 L346.46,143.93 L348.44,144.49 L350.44,145.02 L352.43,145.51 L354.41,145.98 L356.40,146.42 L358.39,146.81 L360.38,147.17 L362.36,147.52 L364.35,147.88 L366.34,148.27 L368.32,148.55 L370.31,148.61 L372.30,148.61 L374.29,148.61 L376.28,148.61" stroke="#00bfff" stroke-width="1.1"/>
<path d="M101.50,148.61 L133.29,107.22 L151.88,103.57 L165.08,102.13 L175.31,103.79 L183.67,105.82 L190.74,106.99 L196.87,107.23 L202.27,107.37 L207.10,107.50 L211.47,107.63 L215.46,107.73 L219.13,107.83 L222.53,107.92 L225.70,108.02 L228.66,108.11 L231.44,108.21 L234.06,108.31 L236.54,108.42 L238.89,108.53 L241.13,108.67 L243.26,108.82 L245.30,108.99 L247.25,109.18 L249.12,109.38 L250.92,109.59 L252.65,109.80 L254.32,110.03 L255.93,110.25 L257.48,110.48 L258.99,110.71 L261.01,111.03 L262.95,111.36 L264.95,111.70 L266.98,112.15 L268.92,112.68 L270.91,113.31 L272.92,114.00 L274.84,114.70 L276.89,115.46 L278.85,116.18 L280.82,116.87 L282.89,117.53 L284.86,118.08 L286.84,118.54 L288.81,119.00 L290.78,119.58 L292.80,120.32 L294.74,121.12 L296.73,122.00 L298.77,122.92 L300.71,123.80 L302.70,124.71 L304.70,125.66 L306.68,126.63 L308.68,127.61 L310.68,128.61 L312.65,129.58 L314.63,130.55 L316.65,131.53 L318.63,132.45 L320.60,133.34 L322.60,134.20 L324.59,135.04 L326.57,135.87 L328.56,136.71 L330.56,137.58 L332.53,138.51 L334.54,139.49 L336.52,140.43 L338.50,141.29 L340.49,142.03 L342.47,142.70 L344.47,143.33 L346.46,143.92 L348.44,144.48 L350.44,145.01 L352.43,145.51 L354.41,145.98 L356.40,146.42 L358.39,146.81 L360.38,147.18 L362.36,147.52 L364.35,147.88 L366.34,148.27 L368.32,148.55 L370.31,148.61 L372.30,148.61 L374.29,148.61 L376.28,148.61" stroke="#00bfff" stroke-width="1.1"/>
<path d="M101.50,148.61 L133.29,107.29 L151.88,103.27 L165.08,101.90 L175.31,104.16 L183.67,105.27 L190.74,105.84 L196.87,106.44 L202.27,106.99 L207.10,107.39 L211.47,107.66 L215.46,107.87 L219.13,108.04 L222.53,108.19 L225.70,108.33 L228.66,108.46 L231.44,108.60 L234.06,108.75 L236.54,108.90 L238.89,109.06 L241.13,109.24 L243.26,109.41 L245.30,109.60 L247.25,109.79 L249.12,109.98 L250.92,110.18 L252.65,110.38 L254.32,110.59 L255.93,110.80 L257.48,111.02 L258.99,111.23 L261.01,111.54 L262.95,111.85 L264.95,112.19 L266.98,112.63 L268.92,113.16 L270.91,113.77 L272.92,114.45 L274.84,115.14 L276.89,115.88 L278.85,116.59 L280.82,117.26 L282.89,117.91 L284.86,118.45 L286.84,118.89 L288.81,119.34 L290.78,119.92 L292.80,120.64 L294.74,121.43 L296.73,122.30 L298.77,123.21 L300.71,124.07 L302.70,124.97 L304.70,125.91 L306.68,126.86 L308.68,127.83 L310.68,128.81 L312.65,129.77 L314.63,130.73 L316.65,131.68 L318.63,132.59 L320.60,133.47 L322.60,134.32 L324.59,135.14 L326.57,135.96 L328.56,136.78 L330.56,137.65 L332.53,138.57 L334.54,139.53 L336.52,140.47 L338.50,141.32 L340.49,142.05 L342.47,142.71 L344.47,143.34 L346.46,143.93 L348.44,144.49 L350.44,145.01 L352.43,145.51 L354.41,145.98 L356.40,146.42 L358.39,146.81 L360.38,147.18 L362.36,147.52 L364.35,147.88 L366.34,148.27 L368.32,148.55 L370.31,148.61 L372.30,148.61 L374.29,148.61 L376.28,148.61" stroke="#00bfff" stroke-width="1.1"/>
<path d="M101.50,148.61 L133.29,106.98 L151.88,103.36 L165.08,101.81 L175.31,103.84 L183.67,105.14 L190.74,106.65 L196.87,106.76 L202.27,106.82 L207.10,106.90 L211.47,107.00 L215.46,107.10 L219.13,107.21 L222.53,107.33 L225.70,107.45 L228.66,107.57 L231.44,107.69 L234.06,107.81 L236.54,107.94 L238.89,108.07 L241.13,108.21 L243.26,108.37 L245.30,108.55 L247.25,108.74 L249.12,108.94 L250.92,109.15 L252.65,109.37 L254.32,109.59 L255.93,109.82 L257.48,110.04 L258.99,110.28 L261.01,110.60 L262.95,110.93 L264.95,111.28 L266.98,111.73 L268.92,112.27 L270.91,112.90 L272.92,113.61 L274.84,114.32 L276.89,115.09 L278.85,115.82 L280.82,116.52 L282.89,117.20 L284.86,117.76 L286.84,118.22 L288.81,118.69 L290.78,119.29 L292.80,120.03 L294.74,120.84 L296.73,121.73 L298.77,122.67 L300.71,123.55 L302.70,124.48 L304.70,125.45 L306.68,126.42 L308.68,127.42 L310.68,128.43 L312.65,129.42 L314.63,130.40 L316.65,131.39 L318.63,132.33 L320.60,133.23 L322.60,134.10 L324.59,134.95 L326.57,135.79 L328.56,136.64 L330.56,137.52 L332.53,138.46 L334.54,139.45 L336.52,140.40 L338.50,141.27 L340.49,142.01 L342.47,142.68 L344.47,143.31 L346.46,143.91 L348.44,144.47 L350.44,145.01 L352.43,145.51 L354.41,145.98 L356.40,146.42 L358.39,146.81 L360.38,147.18 L362.36,147.52 L364.35,147.88 L366.34,148.27 L368.32,148.55 L370.31,148.61 L372.30,148.61 L374.29,148.61 L376.28,148.61" stroke="#00bfff" stroke-width="1.1"/>
<path d="M101.50,148.61 L133.29,106.24 L151.88,103.41 L165.08,101.62 L175.31,104.14 L183.67,104.93 L190.74,105.98 L196.87,106.52 L202.27,106.90 L207.10,107.16 L211.47,107.34 L215.46,107.46 L219.13,107.56 L222.53,107.65 L225.70,107.73 L228.66,107.81 L231.44,107.90 L234.06,107.99 L236.54,108.10 L238.89,108.21 L241.13,108.34 L243.26,108.50 L245.30,108.67 L247.25,108.86 L249.12,109.06 L250.92,109.27 L252.65,109.49 L254.32,109.71 L255.93,109.94 L257.48,110.17 L258.99,110.40 L261.01,110.73 L262.95,111.05 L264.95,111.40 L266.98,111.86 L268.92,112.39 L270.91,113.02 L272.92,113.72 L274.84,114.43 L276.89,115.20 L278.85,115.92 L280.82,116.62 L282.89,117.30 L284.86,117.85 L286.84,118.31 L288.81,118.78 L290.78,119.37 L292.80,120.12 L294.74,120.93 L296.73,121.81 L298.77,122.74 L300.71,123.62 L302.70,124.55 L304.70,125.51 L306.68,126.48 L308.68,127.48 L310.68,128.48 L312.65,129.47 L314.63,130.45 L316.65,131.43 L318.63,132.36 L320.60,133.26 L322.60,134.13 L324.59,134.98 L326.57,135.81 L328.56,136.66 L330.56,137.54 L332.53,138.48 L334.54,139.46 L336.52,140.41 L338.50,141.28 L340.49,142.02 L342.47,142.68 L344.47,143.32 L346.46,143.92 L348.44,144.48 L350.44,145.01 L352.43,145.51 L354.41,145.98 L356.40,146.42 L358.39,146.81 L360.38,147.18 L362.36,147.52 L364.35,147.88 L366.34,148.27 L368.32,148.55 L370.31,148.61 L372.30,148.61 L374.29,148.61 L376.28,148.61" stroke="#00bfff" stroke-width="1.1"/>
<path d="M101.50,148.61 L376.50,148.61" stroke="#1a1a1a" stroke-width="1"/>
<path d="M101.50,148.61 L133.29,153.92 L151.88,153.73 L165.08,153.15 L175.31,152.95 L183.67,153.11 L190.74,153.34 L196.87,153.53 L202.27,153.73 L207.10,153.92 L211.47,154.12 L215.46,154.33 L219.13,154.52 L222.53,154.70 L225.70,154.87 L228.66,155.05 L231.44,155.22 L234.06,155.37 L236.54,155.50 L238.89,155.59 L241.13,155.65 L243.26,155.67 L245.30,155.65 L247.25,155.60 L249.12,155.53 L250.92,155.45 L252.65,155.36 L254.32,155.26 L255.93,155.17 L257.48,155.08 L258.99,154.99 L261.01,154.85 L262.95,154.68 L264.95,154.49 L266.98,154.28 L268.92,154.06 L270.91,153.79 L272.92,153.48 L274.84,153.19 L276.89,152.87 L278.85,152.59 L280.82,152.33 L282.89,152.06 L284.86,151.81 L286.84,151.56 L288.81,151.31 L290.78,151.05 L292.80,150.79 L294.74,150.55 L296.73,150.29 L298.77,150.02 L300.71,149.77 L302.70,149.51 L304.70,149.25 L306.68,148.98 L308.68,148.71 L310.68,148.41 L312.65,148.06 L314.63,147.72 L316.65,147.42 L318.63,147.23 L320.60,147.06 L322.60,146.92 L324.59,146.82 L326.57,146.79 L328.56,146.79 L330.56,146.81 L332.53,146.83 L334.54,146.86 L336.52,146.89 L338.50,146.92 L340.49,146.95 L342.47,146.99 L344.47,147.03 L346.46,147.07 L348.44,147.12 L350.44,147.18 L352.43,147.24 L354.41,147.32 L356.40,147.44 L358.39,147.66 L360.38,147.92 L362.36,148.19 L364.35,148.42 L366.34,148.57 L368.32,148.61 L370.31,148.61 L372.30,148.61 L374.29,148.61 L376.28,148.61" stroke="#ff0000" stroke-width="2.4" stroke-dasharray="4.8 4.3"/>
<path d="M101.50,148.61 L133.29,117.59 L151.88,109.84 L165.08,108.79 L175.31,108.79 L183.67,108.96 L190.74,109.18 L196.87,109.34 L202.27,109.49 L207.10,109.65 L211.47,109.79 L215.46,109.93 L219.13,110.07 L222.53,110.20 L225.70,110.33 L228.66,110.46 L231.44,110.59 L234.06,110.72 L236.54,110.86 L238.89,111.00 L241.13,111.15 L243.26,111.31 L245.30,111.48 L247.25,111.66 L249.12,111.85 L250.92,112.04 L252.65,112.24 L254.32,112.44 L255.93,112.64 L257.48,112.85 L258.99,113.06 L261.01,113.36 L262.95,113.65 L264.95,113.98 L266.98,114.39 L268.92,114.88 L270.91,115.46 L272.92,116.09 L274.84,116.74 L276.89,117.43 L278.85,118.08 L280.82,118.71 L282.89,119.31 L284.86,119.81 L286.84,120.21 L288.81,120.62 L290.78,121.15 L292.80,121.83 L294.74,122.58 L296.73,123.41 L298.77,124.28 L300.71,125.09 L302.70,125.94 L304.70,126.83 L306.68,127.72 L308.68,128.63 L310.68,129.56 L312.65,130.46 L314.63,131.36 L316.65,132.26 L318.63,133.12 L320.60,133.94 L322.60,134.74 L324.59,135.52 L326.57,136.28 L328.56,137.07 L330.56,137.89 L332.53,138.77 L334.54,139.70 L336.52,140.60 L338.50,141.42 L340.49,142.14 L342.47,142.78 L344.47,143.39 L346.46,143.97 L348.44,144.51 L350.44,145.03 L352.43,145.52 L354.41,145.98 L356.40,146.41 L358.39,146.81 L360.38,147.17 L362.36,147.52 L364.35,147.88 L366.34,148.27 L368.32,148.55 L370.31,148.61 L372.30,148.61 L374.29,148.61 L376.28,148.61" stroke="#0000ff" stroke-width="2.0"/>
<path d="M101.50,148.61 L133.29,113.33 L151.88,104.99 L165.08,104.02 L175.31,104.02 L183.67,104.06 L190.74,104.12 L196.87,104.17 L202.27,104.21 L207.10,104.22 L211.47,104.22 L215.46,104.22 L219.13,104.22 L222.53,104.22 L225.70,104.22 L228.66,104.22 L231.44,104.22 L234.06,104.22 L236.54,104.22 L238.89,104.22 L241.13,104.27 L243.26,104.41 L245.30,104.60 L247.25,104.83 L249.12,105.07 L250.92,105.33 L252.65,105.58 L254.32,105.86 L255.93,106.22 L257.48,106.62 L258.99,107.05 L261.01,107.65 L262.95,108.23 L264.95,108.78 L266.98,109.31 L268.92,109.82 L270.91,110.35 L272.92,110.92 L274.84,111.52 L276.89,112.22 L278.85,112.96 L280.82,113.78 L282.89,114.72 L284.86,115.72 L286.84,116.91 L288.81,118.23 L290.78,119.56 L292.80,120.86 L294.74,122.07 L296.73,123.29 L298.77,124.50 L300.71,125.60 L302.70,126.69 L304.70,127.78 L306.68,128.84 L308.68,129.89 L310.68,130.92 L312.65,131.92 L314.63,132.90 L316.65,133.89 L318.63,134.82 L320.60,135.73 L322.60,136.61 L324.59,137.45 L326.57,138.26 L328.56,139.07 L330.56,139.90 L332.53,140.77 L334.54,141.67 L336.52,142.52 L338.50,143.29 L340.49,143.94 L342.47,144.53 L344.47,145.10 L346.46,145.63 L348.44,146.13 L350.44,146.58 L352.43,146.98 L354.41,147.32 L356.40,147.61 L358.39,147.86 L360.38,148.08 L362.36,148.25 L364.35,148.39 L366.34,148.51 L368.32,148.59 L370.31,148.61 L372.30,148.61 L374.29,148.61 L376.28,148.61" stroke="#4b0088" stroke-width="2.2" stroke-dasharray="6.9 2.1 1 2.45 1 2.45 1 2.4"/>
</g>
<path d="M101.50,32.50 H376.50 V226.50" fill="none" stroke="#848484" stroke-width="1"/>
<path d="M101.50,32.50 V226.50 H376.50" fill="none" stroke="#4c4c4c" stroke-width="1" stroke-linecap="square"/>
<path d="M133.5,226.50 v-2.15 M133.5,32.50 v1.61 M152.5,226.50 v-2.15 M152.5,32.50 v1.61 M165.5,226.50 v-2.15 M165.5,32.50 v1.61 M175.5,226.50 v-2.15 M175.5,32.50 v1.61 M183.5,226.50 v-2.15 M183.5,32.50 v1.61 M190.5,226.50 v-2.15 M190.5,32.50 v1.61 M197.5,226.50 v-2.15 M197.5,32.50 v1.61 M202.5,226.50 v-2.15 M202.5,32.50 v1.61 M207.5,226.50 v-4.30 M207.5,32.50 v3.22 M239.5,226.50 v-2.15 M239.5,32.50 v1.61 M257.5,226.50 v-2.15 M257.5,32.50 v1.61 M270.5,226.50 v-2.15 M270.5,32.50 v1.61 M281.5,226.50 v-2.15 M281.5,32.50 v1.61 M289.5,226.50 v-2.15 M289.5,32.50 v1.61 M296.5,226.50 v-2.15 M296.5,32.50 v1.61 M302.5,226.50 v-2.15 M302.5,32.50 v1.61 M308.5,226.50 v-2.15 M308.5,32.50 v1.61 M312.5,226.50 v-4.30 M312.5,32.50 v3.22 M344.5,226.50 v-2.15 M344.5,32.50 v1.61 M363.5,226.50 v-2.15 M363.5,32.50 v1.61" fill="none" stroke="#5a5a5a" stroke-width="1"/>
<path d="M101.50,226.15 h5.70 M376.50,226.15 h-5.70 M101.50,222.27 h2.85 M376.50,222.27 h-2.85 M101.50,218.40 h2.85 M376.50,218.40 h-2.85 M101.50,214.52 h2.85 M376.50,214.52 h-2.85 M101.50,210.64 h2.85 M376.50,210.64 h-2.85 M101.50,206.76 h2.85 M376.50,206.76 h-2.85 M101.50,202.89 h2.85 M376.50,202.89 h-2.85 M101.50,199.01 h2.85 M376.50,199.01 h-2.85 M101.50,195.13 h2.85 M376.50,195.13 h-2.85 M101.50,191.26 h2.85 M376.50,191.26 h-2.85 M101.50,187.38 h5.70 M376.50,187.38 h-5.70 M101.50,183.50 h2.85 M376.50,183.50 h-2.85 M101.50,179.63 h2.85 M376.50,179.63 h-2.85 M101.50,175.75 h2.85 M376.50,175.75 h-2.85 M101.50,171.87 h2.85 M376.50,171.87 h-2.85 M101.50,168.00 h2.85 M376.50,168.00 h-2.85 M101.50,164.12 h2.85 M376.50,164.12 h-2.85 M101.50,160.24 h2.85 M376.50,160.24 h-2.85 M101.50,156.36 h2.85 M376.50,156.36 h-2.85 M101.50,152.49 h2.85 M376.50,152.49 h-2.85 M101.50,148.61 h5.70 M376.50,148.61 h-5.70 M101.50,144.73 h2.85 M376.50,144.73 h-2.85 M101.50,140.86 h2.85 M376.50,140.86 h-2.85 M101.50,136.98 h2.85 M376.50,136.98 h-2.85 M101.50,133.10 h2.85 M376.50,133.10 h-2.85 M101.50,129.22 h2.85 M376.50,129.22 h-2.85 M101.50,125.35 h2.85 M376.50,125.35 h-2.85 M101.50,121.47 h2.85 M376.50,121.47 h-2.85 M101.50,117.59 h2.85 M376.50,117.59 h-2.85 M101.50,113.72 h2.85 M376.50,113.72 h-2.85 M101.50,109.84 h5.70 M376.50,109.84 h-5.70 M101.50,105.96 h2.85 M376.50,105.96 h-2.85 M101.50,102.09 h2.85 M376.50,102.09 h-2.85 M101.50,98.21 h2.85 M376.50,98.21 h-2.85 M101.50,94.33 h2.85 M376.50,94.33 h-2.85 M101.50,90.46 h2.85 M376.50,90.46 h-2.85 M101.50,86.58 h2.85 M376.50,86.58 h-2.85 M101.50,82.70 h2.85 M376.50,82.70 h-2.85 M101.50,78.82 h2.85 M376.50,78.82 h-2.85 M101.50,74.95 h2.85 M376.50,74.95 h-2.85 M101.50,71.07 h5.70 M376.50,71.07 h-5.70 M101.50,67.19 h2.85 M376.50,67.19 h-2.85 M101.50,63.32 h2.85 M376.50,63.32 h-2.85 M101.50,59.44 h2.85 M376.50,59.44 h-2.85 M101.50,55.56 h2.85 M376.50,55.56 h-2.85 M101.50,51.68 h2.85 M376.50,51.68 h-2.85 M101.50,47.81 h2.85 M376.50,47.81 h-2.85 M101.50,43.93 h2.85 M376.50,43.93 h-2.85 M101.50,40.05 h2.85 M376.50,40.05 h-2.85 M101.50,36.18 h2.85 M376.50,36.18 h-2.85 M101.50,32.30 h5.70 M376.50,32.30 h-5.70" fill="none" stroke="#505050" stroke-width="0.8"/>
<path d="M88.20,32.17 L94.03,32.17 L90.85,36.41 L92.44,36.41 L93.50,36.94 L94.03,37.47 L94.56,39.06 L94.56,40.12 L94.03,41.71 L92.97,42.77 L91.38,43.30 L89.79,43.30 L88.20,42.77 L87.67,42.24 L87.14,41.18 M87.67,69.12 L87.67,68.59 L88.20,67.53 L88.73,67.00 L89.79,66.47 L91.91,66.47 L92.97,67.00 L93.50,67.53 L94.03,68.59 L94.03,69.65 L93.50,70.71 L92.44,72.30 L87.14,77.60 L94.56,77.60 M88.73,106.99 L89.79,106.46 L91.38,104.87 L91.38,116.00 M90.32,144.37 L88.73,144.90 L87.67,146.49 L87.14,149.14 L87.14,150.73 L87.67,153.38 L88.73,154.97 L90.32,155.50 L91.38,155.50 L92.97,154.97 L94.03,153.38 L94.56,150.73 L94.56,149.14 L94.03,146.49 L92.97,144.90 L91.38,144.37 L90.32,144.37 M73.71,189.03 L82.30,189.03 M88.13,184.79 L89.19,184.26 L90.78,182.67 L90.78,193.80 M73.71,221.63 L82.30,221.63 M87.07,217.92 L87.07,217.39 L87.60,216.33 L88.13,215.80 L89.19,215.27 L91.31,215.27 L92.37,215.80 L92.90,216.33 L93.43,217.39 L93.43,218.45 L92.90,219.51 L91.84,221.10 L86.54,226.40 L93.96,226.40 M98.78,241.39 L99.84,240.86 L101.43,239.27 L101.43,250.40 M199.68,241.39 L200.74,240.86 L202.33,239.27 L202.33,250.40 M211.87,239.27 L210.28,239.80 L209.22,241.39 L208.69,244.04 L208.69,245.63 L209.22,248.28 L210.28,249.87 L211.87,250.40 L212.93,250.40 L214.52,249.87 L215.58,248.28 L216.11,245.63 L216.11,244.04 L215.58,241.39 L214.52,239.80 L212.93,239.27 L211.87,239.27 M299.98,241.39 L301.04,240.86 L302.63,239.27 L302.63,250.40 M312.17,239.27 L310.58,239.80 L309.52,241.39 L308.99,244.04 L308.99,245.63 L309.52,248.28 L310.58,249.87 L312.17,250.40 L313.23,250.40 L314.82,249.87 L315.88,248.28 L316.41,245.63 L316.41,244.04 L315.88,241.39 L314.82,239.80 L313.23,239.27 L312.17,239.27 M322.77,239.27 L321.18,239.80 L320.12,241.39 L319.59,244.04 L319.59,245.63 L320.12,248.28 L321.18,249.87 L322.77,250.40 L323.83,250.40 L325.42,249.87 L326.48,248.28 L327.01,245.63 L327.01,244.04 L326.48,241.39 L325.42,239.80 L323.83,239.27 L322.77,239.27 M231.51,260.47 L231.51,271.60 M236.81,264.18 L231.51,269.48 M233.63,267.36 L237.34,271.60 M240.52,260.47 L240.52,271.60 M240.52,271.60 L246.88,271.60 M45.57,155.81 L56.70,155.81 M45.57,148.38 L56.70,148.38 M45.57,155.81 L45.57,148.38 M43.45,140.44 L44.51,141.50 L46.10,142.56 L48.22,143.62 L50.87,144.14 L52.99,144.14 L55.64,143.62 L57.76,142.56 L59.35,141.50 L60.41,140.44 M45.57,136.72 L56.70,136.72 M49.28,131.42 L54.58,136.72 M52.46,134.60 L56.70,130.90 M43.45,128.25 L44.51,127.19 L46.10,126.12 L48.22,125.06 L50.87,124.53 L52.99,124.53 L55.64,125.06 L57.76,126.12 L59.35,127.19 L60.41,128.25 M43.45,111.81 L60.41,121.35 M50.02,104.13 L49.39,105.19 L49.28,106.51 L49.44,107.31 L49.81,108.10 L50.76,108.79 L52.20,109.16 L53.79,109.16 L55.22,108.79 L56.17,108.10 L56.54,107.31 L56.70,106.51 L56.59,105.19 L55.96,104.13 M52.99,109.16 L52.99,105.45 M197.59,126.10 L198.39,126.10 L199.19,126.63 L199.72,127.42 L203.69,136.70 M200.67,129.54 L197.86,136.70 M207.61,130.34 L216.41,130.34 M207.61,133.52 L216.41,133.52 M223.83,125.57 L222.24,126.10 L221.18,127.69 L220.65,130.34 L220.65,131.93 L221.18,134.58 L222.24,136.17 L223.83,136.70 L224.89,136.70 L226.48,136.17 L227.54,134.58 L228.07,131.93 L228.07,130.34 L227.54,127.69 L226.48,126.10 L224.89,125.57 L223.83,125.57 M232.31,135.64 L231.78,136.17 L232.31,136.70 L232.84,136.17 L232.31,135.64 M239.20,125.57 L237.61,126.10 L237.08,127.16 L237.08,128.22 L237.61,129.28 L238.67,129.81 L240.79,130.34 L242.38,130.87 L243.44,131.93 L243.97,132.99 L243.97,134.58 L243.44,135.64 L242.91,136.17 L241.32,136.70 L239.20,136.70 L237.61,136.17 L237.08,135.64 L236.55,134.58 L236.55,132.99 L237.08,131.93 L238.14,130.87 L239.73,130.34 L241.85,129.81 L242.91,129.28 L243.44,128.22 L243.44,127.16 L242.91,126.10 L241.32,125.57 L239.20,125.57 M250.33,125.57 L248.74,126.10 L247.68,127.69 L247.15,130.34 L247.15,131.93 L247.68,134.58 L248.74,136.17 L250.33,136.70 L251.39,136.70 L252.98,136.17 L254.04,134.58 L254.57,131.93 L254.57,130.34 L254.04,127.69 L252.98,126.10 L251.39,125.57 L250.33,125.57 M268.54,40.47 L268.54,51.60 M264.83,40.47 L272.25,40.47 M277.02,44.18 L275.96,44.71 L274.90,45.77 L274.37,47.36 L274.37,48.42 L274.90,50.01 L275.96,51.07 L277.02,51.60 L278.61,51.60 L279.67,51.07 L280.73,50.01 L281.26,48.42 L281.26,47.36 L280.73,45.77 L279.67,44.71 L278.61,44.18 L277.02,44.18 M285.50,40.47 L285.50,49.48 L286.03,51.07 L287.09,51.60 L288.15,51.60 M283.91,44.18 L287.62,44.18 M297.16,44.18 L297.16,51.60 M297.16,45.77 L296.10,44.71 L295.04,44.18 L293.45,44.18 L292.39,44.71 L291.33,45.77 L290.80,47.36 L290.80,48.42 L291.33,50.01 L292.39,51.07 L293.45,51.60 L295.04,51.60 L296.10,51.07 L297.16,50.01 M301.40,40.47 L301.40,51.60 M266.54,59.75 L266.54,71.00 M274.04,59.75 L274.04,71.00 M266.54,65.11 L274.04,65.11 M277.79,66.72 L284.22,66.72 L284.22,65.64 L283.68,64.57 L283.14,64.04 L282.07,63.50 L280.47,63.50 L279.40,64.04 L278.32,65.11 L277.79,66.72 L277.79,67.79 L278.32,69.39 L279.40,70.46 L280.47,71.00 L282.07,71.00 L283.14,70.46 L284.22,69.39 M288.50,59.75 L288.50,68.86 L289.04,70.46 L290.11,71.00 L291.18,71.00 M286.89,63.50 L290.64,63.50 M293.86,66.72 L300.28,66.72 L300.28,65.64 L299.75,64.57 L299.21,64.04 L298.14,63.50 L296.53,63.50 L295.46,64.04 L294.39,65.11 L293.86,66.72 L293.86,67.79 L294.39,69.39 L295.46,70.46 L296.53,71.00 L298.14,71.00 L299.21,70.46 L300.28,69.39 M304.03,63.50 L304.03,71.00 M304.03,66.72 L304.57,65.11 L305.64,64.04 L306.71,63.50 L308.32,63.50 M313.14,63.50 L312.07,64.04 L310.99,65.11 L310.46,66.72 L310.46,67.79 L310.99,69.39 L312.07,70.46 L313.14,71.00 L314.74,71.00 L315.81,70.46 L316.89,69.39 L317.42,67.79 L317.42,66.72 L316.89,65.11 L315.81,64.04 L314.74,63.50 L313.14,63.50 M327.06,65.11 L325.99,64.04 L324.92,63.50 L323.31,63.50 L322.24,64.04 L321.17,65.11 L320.63,66.72 L320.63,67.79 L321.17,69.39 L322.24,70.46 L323.31,71.00 L324.92,71.00 L325.99,70.46 L327.06,69.39 M330.81,59.75 L330.81,71.00 M330.81,65.64 L332.42,64.04 L333.49,63.50 L335.09,63.50 L336.17,64.04 L336.70,65.64 L336.70,71.00 M340.45,59.75 L340.99,60.29 L341.52,59.75 L340.99,59.22 L340.45,59.75 M340.99,63.50 L340.99,71.00 M345.27,63.50 L345.27,71.00 M345.27,66.72 L345.81,65.11 L346.88,64.04 L347.95,63.50 L349.55,63.50 M358.12,63.50 L358.12,71.00 M358.12,65.11 L357.05,64.04 L355.98,63.50 L354.37,63.50 L353.30,64.04 L352.23,65.11 L351.70,66.72 L351.70,67.79 L352.23,69.39 L353.30,70.46 L354.37,71.00 L355.98,71.00 L357.05,70.46 L358.12,69.39 M362.41,59.75 L362.41,71.00 M266.47,79.32 L266.47,90.45 M273.89,79.32 L273.89,90.45 M266.47,84.62 L273.89,84.62 M280.25,83.03 L279.19,83.56 L278.13,84.62 L277.60,86.21 L277.60,87.27 L278.13,88.86 L279.19,89.92 L280.25,90.45 L281.84,90.45 L282.90,89.92 L283.96,88.86 L284.49,87.27 L284.49,86.21 L283.96,84.62 L282.90,83.56 L281.84,83.03 L280.25,83.03 M288.20,83.03 L288.20,90.45 M288.20,85.15 L289.79,83.56 L290.85,83.03 L292.44,83.03 L293.50,83.56 L294.03,85.15 L294.03,90.45 M294.03,85.15 L295.62,83.56 L296.68,83.03 L298.27,83.03 L299.33,83.56 L299.86,85.15 L299.86,90.45 M306.22,83.03 L305.16,83.56 L304.10,84.62 L303.57,86.21 L303.57,87.27 L304.10,88.86 L305.16,89.92 L306.22,90.45 L307.81,90.45 L308.87,89.92 L309.93,88.86 L310.46,87.27 L310.46,86.21 L309.93,84.62 L308.87,83.56 L307.81,83.03 L306.22,83.03 M320.00,84.62 L318.94,83.56 L317.88,83.03 L316.29,83.03 L315.23,83.56 L314.17,84.62 L313.64,86.21 L313.64,87.27 L314.17,88.86 L315.23,89.92 L316.29,90.45 L317.88,90.45 L318.94,89.92 L320.00,88.86 M323.71,79.32 L323.71,90.45 M323.71,85.15 L325.30,83.56 L326.36,83.03 L327.95,83.03 L329.01,83.56 L329.54,85.15 L329.54,90.45 M333.25,79.32 L333.78,79.85 L334.31,79.32 L333.78,78.79 L333.25,79.32 M333.78,83.03 L333.78,90.45 M338.02,83.03 L338.02,90.45 M338.02,86.21 L338.55,84.62 L339.61,83.56 L340.67,83.03 L342.26,83.03 M350.74,83.03 L350.74,90.45 M350.74,84.62 L349.68,83.56 L348.62,83.03 L347.03,83.03 L345.97,83.56 L344.91,84.62 L344.38,86.21 L344.38,87.27 L344.91,88.86 L345.97,89.92 L347.03,90.45 L348.62,90.45 L349.68,89.92 L350.74,88.86 M354.98,79.32 L354.98,90.45" fill="none" stroke="#000" stroke-width="1.1" stroke-linecap="round" stroke-linejoin="round"/>
<path d="M239,49.65 H261.7" stroke="#0000ff" stroke-width="2.2" fill="none"/>
<path d="M239,68.8 H261.9" stroke="#4b0088" stroke-width="2.2" fill="none" stroke-dasharray="6.9 2.1 1 2.45 1 2.45 1 2.4"/>
<path d="M239,88.5 H261.9" stroke="#ff0000" stroke-width="2.4" fill="none" stroke-dasharray="4.8 4.3"/>
</svg>
</body></html>
